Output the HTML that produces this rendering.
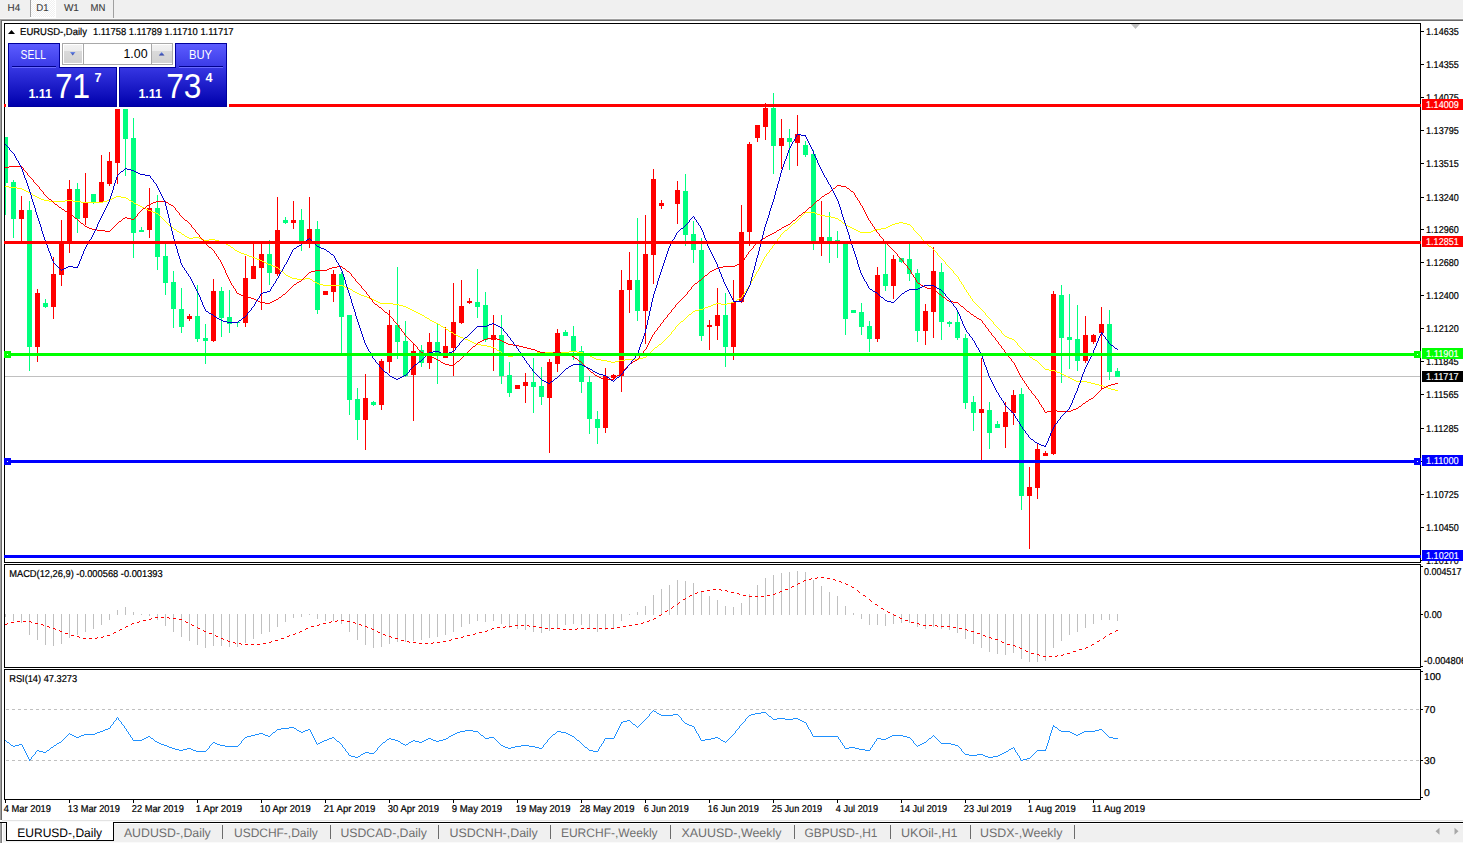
<!DOCTYPE html>
<html><head><meta charset="utf-8"><title>EURUSD-,Daily</title>
<style>html,body{margin:0;padding:0;background:#fff;width:1463px;height:843px;overflow:hidden}
text{font-family:'Liberation Sans',Arial,sans-serif;white-space:pre}
</style></head><body>
<svg width="1463" height="843" viewBox="0 0 1463 843" style="display:block;font-family:'Liberation Sans',Arial,sans-serif"><rect x="0" y="0" width="1463" height="19" fill="#f0f0f0"/>
<rect x="0" y="18" width="1463" height="1" fill="#f7f7f7"/>
<defs><pattern id="chk" width="2" height="2" patternUnits="userSpaceOnUse"><rect width="2" height="2" fill="#f0f0f0"/><rect width="1" height="1" fill="#fff"/><rect x="1" y="1" width="1" height="1" fill="#fff"/></pattern></defs>
<rect x="31" y="0" width="24" height="17" fill="url(#chk)"/>
<rect x="30" y="0" width="1" height="17" fill="#a0a0a0"/>
<rect x="55" y="0" width="1" height="18" fill="#fff"/>
<rect x="30" y="17" width="26" height="1" fill="#fff"/>
<rect x="113" y="0" width="1" height="18" fill="#a0a0a0"/>
<text x="7.6" y="11" font-size="10" fill="#3a3a3a" textLength="12.6" lengthAdjust="spacingAndGlyphs" stroke="#3a3a3a" stroke-width="0.1" text-rendering="geometricPrecision">H4</text>
<text x="36.2" y="11" font-size="10" fill="#3a3a3a" textLength="12.3" lengthAdjust="spacingAndGlyphs" stroke="#3a3a3a" stroke-width="0.1" text-rendering="geometricPrecision">D1</text>
<text x="63.9" y="11" font-size="10" fill="#3a3a3a" textLength="15.0" lengthAdjust="spacingAndGlyphs" stroke="#3a3a3a" stroke-width="0.1" text-rendering="geometricPrecision">W1</text>
<text x="90.6" y="11" font-size="10" fill="#3a3a3a" textLength="14.8" lengthAdjust="spacingAndGlyphs" stroke="#3a3a3a" stroke-width="0.1" text-rendering="geometricPrecision">MN</text>
<rect x="0" y="19" width="1463" height="1" fill="#a0a0a0"/>
<rect x="1" y="20" width="1463" height="1" fill="#696969"/>
<rect x="0" y="19" width="1" height="801" fill="#a0a0a0"/>
<rect x="1" y="20" width="1" height="800" fill="#696969"/>
<rect x="2" y="21" width="1461" height="799" fill="#fff"/>
<rect x="2" y="820" width="1461" height="1" fill="#e3e3e3"/>
<rect x="4" y="23" width="1417" height="1" fill="#000"/>
<rect x="4" y="23" width="1" height="540" fill="#000"/>
<rect x="1420" y="23" width="1" height="540" fill="#000"/>
<rect x="4" y="562" width="1417" height="1" fill="#000"/>
<rect x="5" y="376" width="1415" height="1" fill="#c0c0c0"/>
<rect x="5" y="137" width="1" height="78" fill="#00ff7f"/>
<rect x="5" y="137" width="3" height="46" fill="#00ff7f"/>
<rect x="13" y="180" width="1" height="58" fill="#00ff7f"/>
<rect x="11" y="182" width="5" height="37" fill="#00ff7f"/>
<rect x="21" y="196" width="1" height="45" fill="#ff0000"/>
<rect x="19" y="210" width="5" height="9" fill="#ff0000"/>
<rect x="29" y="201" width="1" height="170" fill="#00ff7f"/>
<rect x="27" y="210" width="5" height="137" fill="#00ff7f"/>
<rect x="37" y="289" width="1" height="73" fill="#ff0000"/>
<rect x="35" y="293" width="5" height="54" fill="#ff0000"/>
<rect x="45" y="299" width="1" height="9" fill="#00ff7f"/>
<rect x="43" y="303" width="5" height="4" fill="#00ff7f"/>
<rect x="53" y="257" width="1" height="62" fill="#ff0000"/>
<rect x="51" y="274" width="5" height="33" fill="#ff0000"/>
<rect x="61" y="220" width="1" height="66" fill="#ff0000"/>
<rect x="59" y="243" width="5" height="32" fill="#ff0000"/>
<rect x="69" y="180" width="1" height="73" fill="#ff0000"/>
<rect x="67" y="189" width="5" height="52" fill="#ff0000"/>
<rect x="77" y="183" width="1" height="50" fill="#00ff7f"/>
<rect x="75" y="189" width="5" height="30" fill="#00ff7f"/>
<rect x="85" y="173" width="1" height="52" fill="#ff0000"/>
<rect x="83" y="202" width="5" height="16" fill="#ff0000"/>
<rect x="93" y="194" width="1" height="10" fill="#00ff7f"/>
<rect x="91" y="194" width="5" height="8" fill="#00ff7f"/>
<rect x="101" y="155" width="1" height="47" fill="#ff0000"/>
<rect x="99" y="182" width="5" height="20" fill="#ff0000"/>
<rect x="109" y="152" width="1" height="34" fill="#ff0000"/>
<rect x="107" y="161" width="5" height="23" fill="#ff0000"/>
<rect x="117" y="50" width="1" height="134" fill="#ff0000"/>
<rect x="115" y="71" width="5" height="92" fill="#ff0000"/>
<rect x="125" y="50" width="1" height="126" fill="#00ff7f"/>
<rect x="123" y="71" width="5" height="68" fill="#00ff7f"/>
<rect x="133" y="118" width="1" height="140" fill="#00ff7f"/>
<rect x="131" y="138" width="5" height="95" fill="#00ff7f"/>
<rect x="141" y="227" width="1" height="5" fill="#00ff7f"/>
<rect x="139" y="230" width="5" height="2" fill="#00ff7f"/>
<rect x="149" y="188" width="1" height="50" fill="#ff0000"/>
<rect x="147" y="208" width="5" height="22" fill="#ff0000"/>
<rect x="157" y="195" width="1" height="75" fill="#00ff7f"/>
<rect x="155" y="208" width="5" height="49" fill="#00ff7f"/>
<rect x="165" y="244" width="1" height="51" fill="#00ff7f"/>
<rect x="163" y="256" width="5" height="27" fill="#00ff7f"/>
<rect x="173" y="271" width="1" height="57" fill="#00ff7f"/>
<rect x="171" y="282" width="5" height="27" fill="#00ff7f"/>
<rect x="181" y="288" width="1" height="45" fill="#00ff7f"/>
<rect x="179" y="309" width="5" height="18" fill="#00ff7f"/>
<rect x="189" y="314" width="1" height="7" fill="#ff0000"/>
<rect x="187" y="316" width="5" height="3" fill="#ff0000"/>
<rect x="197" y="285" width="1" height="57" fill="#00ff7f"/>
<rect x="195" y="316" width="5" height="23" fill="#00ff7f"/>
<rect x="205" y="324" width="1" height="40" fill="#00ff7f"/>
<rect x="203" y="338" width="5" height="3" fill="#00ff7f"/>
<rect x="213" y="279" width="1" height="63" fill="#ff0000"/>
<rect x="211" y="291" width="5" height="50" fill="#ff0000"/>
<rect x="221" y="287" width="1" height="50" fill="#00ff7f"/>
<rect x="219" y="291" width="5" height="27" fill="#00ff7f"/>
<rect x="229" y="290" width="1" height="43" fill="#00ff7f"/>
<rect x="227" y="317" width="5" height="7" fill="#00ff7f"/>
<rect x="237" y="322" width="1" height="5" fill="#00ff7f"/>
<rect x="235" y="322" width="5" height="1" fill="#00ff7f"/>
<rect x="245" y="256" width="1" height="71" fill="#ff0000"/>
<rect x="243" y="278" width="5" height="45" fill="#ff0000"/>
<rect x="253" y="244" width="1" height="35" fill="#ff0000"/>
<rect x="251" y="266" width="5" height="13" fill="#ff0000"/>
<rect x="261" y="241" width="1" height="69" fill="#ff0000"/>
<rect x="259" y="254" width="5" height="14" fill="#ff0000"/>
<rect x="269" y="240" width="1" height="45" fill="#00ff7f"/>
<rect x="267" y="254" width="5" height="19" fill="#00ff7f"/>
<rect x="277" y="197" width="1" height="79" fill="#ff0000"/>
<rect x="275" y="230" width="5" height="44" fill="#ff0000"/>
<rect x="285" y="217" width="1" height="7" fill="#00ff7f"/>
<rect x="283" y="220" width="5" height="3" fill="#00ff7f"/>
<rect x="293" y="201" width="1" height="28" fill="#ff0000"/>
<rect x="291" y="220" width="5" height="3" fill="#ff0000"/>
<rect x="301" y="209" width="1" height="42" fill="#00ff7f"/>
<rect x="299" y="220" width="5" height="21" fill="#00ff7f"/>
<rect x="309" y="197" width="1" height="51" fill="#ff0000"/>
<rect x="307" y="229" width="5" height="13" fill="#ff0000"/>
<rect x="317" y="221" width="1" height="93" fill="#00ff7f"/>
<rect x="315" y="229" width="5" height="81" fill="#00ff7f"/>
<rect x="325" y="291" width="1" height="4" fill="#ff0000"/>
<rect x="323" y="291" width="5" height="4" fill="#ff0000"/>
<rect x="333" y="270" width="1" height="32" fill="#ff0000"/>
<rect x="331" y="274" width="5" height="18" fill="#ff0000"/>
<rect x="341" y="272" width="1" height="81" fill="#00ff7f"/>
<rect x="339" y="274" width="5" height="43" fill="#00ff7f"/>
<rect x="349" y="315" width="1" height="100" fill="#00ff7f"/>
<rect x="347" y="315" width="5" height="85" fill="#00ff7f"/>
<rect x="357" y="388" width="1" height="52" fill="#00ff7f"/>
<rect x="355" y="399" width="5" height="21" fill="#00ff7f"/>
<rect x="365" y="374" width="1" height="76" fill="#ff0000"/>
<rect x="363" y="398" width="5" height="22" fill="#ff0000"/>
<rect x="373" y="401" width="1" height="5" fill="#00ff7f"/>
<rect x="371" y="402" width="5" height="3" fill="#00ff7f"/>
<rect x="381" y="359" width="1" height="51" fill="#ff0000"/>
<rect x="379" y="361" width="5" height="44" fill="#ff0000"/>
<rect x="389" y="310" width="1" height="63" fill="#ff0000"/>
<rect x="387" y="325" width="5" height="37" fill="#ff0000"/>
<rect x="397" y="267" width="1" height="92" fill="#00ff7f"/>
<rect x="395" y="325" width="5" height="17" fill="#00ff7f"/>
<rect x="405" y="321" width="1" height="56" fill="#00ff7f"/>
<rect x="403" y="341" width="5" height="35" fill="#00ff7f"/>
<rect x="413" y="343" width="1" height="78" fill="#ff0000"/>
<rect x="411" y="351" width="5" height="24" fill="#ff0000"/>
<rect x="421" y="345" width="1" height="22" fill="#00ff7f"/>
<rect x="419" y="350" width="5" height="13" fill="#00ff7f"/>
<rect x="429" y="333" width="1" height="36" fill="#ff0000"/>
<rect x="427" y="342" width="5" height="21" fill="#ff0000"/>
<rect x="437" y="323" width="1" height="61" fill="#00ff7f"/>
<rect x="435" y="342" width="5" height="14" fill="#00ff7f"/>
<rect x="445" y="327" width="1" height="31" fill="#ff0000"/>
<rect x="443" y="346" width="5" height="12" fill="#ff0000"/>
<rect x="453" y="283" width="1" height="93" fill="#ff0000"/>
<rect x="451" y="322" width="5" height="26" fill="#ff0000"/>
<rect x="461" y="280" width="1" height="44" fill="#ff0000"/>
<rect x="459" y="306" width="5" height="17" fill="#ff0000"/>
<rect x="469" y="298" width="1" height="6" fill="#ff0000"/>
<rect x="467" y="301" width="5" height="2" fill="#ff0000"/>
<rect x="477" y="269" width="1" height="49" fill="#00ff7f"/>
<rect x="475" y="302" width="5" height="5" fill="#00ff7f"/>
<rect x="485" y="292" width="1" height="50" fill="#00ff7f"/>
<rect x="483" y="305" width="5" height="35" fill="#00ff7f"/>
<rect x="493" y="315" width="1" height="56" fill="#ff0000"/>
<rect x="491" y="335" width="5" height="5" fill="#ff0000"/>
<rect x="501" y="315" width="1" height="69" fill="#00ff7f"/>
<rect x="499" y="335" width="5" height="41" fill="#00ff7f"/>
<rect x="509" y="362" width="1" height="35" fill="#00ff7f"/>
<rect x="507" y="375" width="5" height="18" fill="#00ff7f"/>
<rect x="517" y="385" width="1" height="4" fill="#ff0000"/>
<rect x="515" y="385" width="5" height="4" fill="#ff0000"/>
<rect x="525" y="373" width="1" height="30" fill="#ff0000"/>
<rect x="523" y="382" width="5" height="4" fill="#ff0000"/>
<rect x="533" y="358" width="1" height="55" fill="#00ff7f"/>
<rect x="531" y="382" width="5" height="5" fill="#00ff7f"/>
<rect x="541" y="367" width="1" height="38" fill="#00ff7f"/>
<rect x="539" y="386" width="5" height="11" fill="#00ff7f"/>
<rect x="549" y="359" width="1" height="94" fill="#ff0000"/>
<rect x="547" y="362" width="5" height="36" fill="#ff0000"/>
<rect x="557" y="329" width="1" height="43" fill="#ff0000"/>
<rect x="555" y="333" width="5" height="31" fill="#ff0000"/>
<rect x="565" y="330" width="1" height="6" fill="#00ff7f"/>
<rect x="563" y="332" width="5" height="4" fill="#00ff7f"/>
<rect x="573" y="326" width="1" height="34" fill="#00ff7f"/>
<rect x="571" y="336" width="5" height="15" fill="#00ff7f"/>
<rect x="581" y="346" width="1" height="47" fill="#00ff7f"/>
<rect x="579" y="351" width="5" height="31" fill="#00ff7f"/>
<rect x="589" y="376" width="1" height="58" fill="#00ff7f"/>
<rect x="587" y="382" width="5" height="37" fill="#00ff7f"/>
<rect x="597" y="411" width="1" height="33" fill="#00ff7f"/>
<rect x="595" y="419" width="5" height="9" fill="#00ff7f"/>
<rect x="605" y="368" width="1" height="65" fill="#ff0000"/>
<rect x="603" y="376" width="5" height="52" fill="#ff0000"/>
<rect x="613" y="374" width="1" height="5" fill="#ff0000"/>
<rect x="611" y="375" width="5" height="3" fill="#ff0000"/>
<rect x="621" y="270" width="1" height="122" fill="#ff0000"/>
<rect x="619" y="290" width="5" height="86" fill="#ff0000"/>
<rect x="629" y="252" width="1" height="61" fill="#ff0000"/>
<rect x="627" y="280" width="5" height="10" fill="#ff0000"/>
<rect x="637" y="218" width="1" height="103" fill="#00ff7f"/>
<rect x="635" y="280" width="5" height="31" fill="#00ff7f"/>
<rect x="645" y="215" width="1" height="129" fill="#ff0000"/>
<rect x="643" y="254" width="5" height="57" fill="#ff0000"/>
<rect x="653" y="169" width="1" height="115" fill="#ff0000"/>
<rect x="651" y="179" width="5" height="76" fill="#ff0000"/>
<rect x="661" y="200" width="1" height="9" fill="#ff0000"/>
<rect x="659" y="203" width="5" height="3" fill="#ff0000"/>
<rect x="677" y="181" width="1" height="43" fill="#ff0000"/>
<rect x="675" y="190" width="5" height="14" fill="#ff0000"/>
<rect x="685" y="174" width="1" height="72" fill="#00ff7f"/>
<rect x="683" y="191" width="5" height="44" fill="#00ff7f"/>
<rect x="693" y="221" width="1" height="42" fill="#00ff7f"/>
<rect x="691" y="234" width="5" height="16" fill="#00ff7f"/>
<rect x="701" y="238" width="1" height="103" fill="#00ff7f"/>
<rect x="699" y="250" width="5" height="86" fill="#00ff7f"/>
<rect x="709" y="320" width="1" height="30" fill="#ff0000"/>
<rect x="707" y="325" width="5" height="2" fill="#ff0000"/>
<rect x="717" y="288" width="1" height="52" fill="#ff0000"/>
<rect x="715" y="315" width="5" height="11" fill="#ff0000"/>
<rect x="725" y="293" width="1" height="74" fill="#00ff7f"/>
<rect x="723" y="315" width="5" height="32" fill="#00ff7f"/>
<rect x="733" y="280" width="1" height="80" fill="#ff0000"/>
<rect x="731" y="302" width="5" height="45" fill="#ff0000"/>
<rect x="741" y="205" width="1" height="98" fill="#ff0000"/>
<rect x="739" y="232" width="5" height="70" fill="#ff0000"/>
<rect x="749" y="142" width="1" height="104" fill="#ff0000"/>
<rect x="747" y="144" width="5" height="88" fill="#ff0000"/>
<rect x="757" y="125" width="1" height="17" fill="#ff0000"/>
<rect x="755" y="125" width="5" height="13" fill="#ff0000"/>
<rect x="765" y="103" width="1" height="37" fill="#ff0000"/>
<rect x="763" y="108" width="5" height="19" fill="#ff0000"/>
<rect x="773" y="93" width="1" height="81" fill="#00ff7f"/>
<rect x="771" y="108" width="5" height="38" fill="#00ff7f"/>
<rect x="781" y="119" width="1" height="50" fill="#ff0000"/>
<rect x="779" y="138" width="5" height="8" fill="#ff0000"/>
<rect x="789" y="129" width="1" height="41" fill="#00ff7f"/>
<rect x="787" y="138" width="5" height="4" fill="#00ff7f"/>
<rect x="797" y="115" width="1" height="51" fill="#ff0000"/>
<rect x="795" y="134" width="5" height="9" fill="#ff0000"/>
<rect x="805" y="141" width="1" height="16" fill="#00ff7f"/>
<rect x="803" y="145" width="5" height="10" fill="#00ff7f"/>
<rect x="813" y="150" width="1" height="100" fill="#00ff7f"/>
<rect x="811" y="154" width="5" height="87" fill="#00ff7f"/>
<rect x="821" y="201" width="1" height="55" fill="#ff0000"/>
<rect x="819" y="237" width="5" height="5" fill="#ff0000"/>
<rect x="829" y="212" width="1" height="51" fill="#00ff7f"/>
<rect x="827" y="237" width="5" height="4" fill="#00ff7f"/>
<rect x="837" y="231" width="1" height="27" fill="#00ff7f"/>
<rect x="835" y="240" width="5" height="1" fill="#00ff7f"/>
<rect x="845" y="244" width="1" height="91" fill="#00ff7f"/>
<rect x="843" y="244" width="5" height="75" fill="#00ff7f"/>
<rect x="853" y="310" width="1" height="3" fill="#00ff7f"/>
<rect x="851" y="310" width="5" height="3" fill="#00ff7f"/>
<rect x="861" y="303" width="1" height="32" fill="#00ff7f"/>
<rect x="859" y="312" width="5" height="15" fill="#00ff7f"/>
<rect x="869" y="321" width="1" height="31" fill="#00ff7f"/>
<rect x="867" y="326" width="5" height="13" fill="#00ff7f"/>
<rect x="877" y="267" width="1" height="75" fill="#ff0000"/>
<rect x="875" y="275" width="5" height="64" fill="#ff0000"/>
<rect x="885" y="242" width="1" height="49" fill="#00ff7f"/>
<rect x="883" y="274" width="5" height="12" fill="#00ff7f"/>
<rect x="893" y="255" width="1" height="44" fill="#ff0000"/>
<rect x="891" y="259" width="5" height="27" fill="#ff0000"/>
<rect x="901" y="258" width="1" height="5" fill="#00ff7f"/>
<rect x="899" y="258" width="5" height="4" fill="#00ff7f"/>
<rect x="909" y="244" width="1" height="37" fill="#00ff7f"/>
<rect x="907" y="259" width="5" height="15" fill="#00ff7f"/>
<rect x="917" y="269" width="1" height="73" fill="#00ff7f"/>
<rect x="915" y="273" width="5" height="58" fill="#00ff7f"/>
<rect x="925" y="304" width="1" height="41" fill="#ff0000"/>
<rect x="923" y="311" width="5" height="20" fill="#ff0000"/>
<rect x="933" y="247" width="1" height="91" fill="#ff0000"/>
<rect x="931" y="271" width="5" height="41" fill="#ff0000"/>
<rect x="941" y="263" width="1" height="77" fill="#00ff7f"/>
<rect x="939" y="272" width="5" height="50" fill="#00ff7f"/>
<rect x="949" y="321" width="1" height="6" fill="#00ff7f"/>
<rect x="947" y="322" width="5" height="2" fill="#00ff7f"/>
<rect x="957" y="312" width="1" height="28" fill="#00ff7f"/>
<rect x="955" y="322" width="5" height="16" fill="#00ff7f"/>
<rect x="965" y="334" width="1" height="75" fill="#00ff7f"/>
<rect x="963" y="338" width="5" height="65" fill="#00ff7f"/>
<rect x="973" y="396" width="1" height="35" fill="#00ff7f"/>
<rect x="971" y="402" width="5" height="11" fill="#00ff7f"/>
<rect x="981" y="358" width="1" height="102" fill="#ff0000"/>
<rect x="979" y="409" width="5" height="4" fill="#ff0000"/>
<rect x="989" y="402" width="1" height="47" fill="#00ff7f"/>
<rect x="987" y="410" width="5" height="23" fill="#00ff7f"/>
<rect x="997" y="421" width="1" height="7" fill="#00ff7f"/>
<rect x="995" y="424" width="5" height="4" fill="#00ff7f"/>
<rect x="1005" y="402" width="1" height="46" fill="#ff0000"/>
<rect x="1003" y="412" width="5" height="15" fill="#ff0000"/>
<rect x="1013" y="390" width="1" height="35" fill="#ff0000"/>
<rect x="1011" y="395" width="5" height="18" fill="#ff0000"/>
<rect x="1021" y="388" width="1" height="122" fill="#00ff7f"/>
<rect x="1019" y="394" width="5" height="102" fill="#00ff7f"/>
<rect x="1029" y="467" width="1" height="82" fill="#ff0000"/>
<rect x="1027" y="487" width="5" height="9" fill="#ff0000"/>
<rect x="1037" y="443" width="1" height="56" fill="#ff0000"/>
<rect x="1035" y="449" width="5" height="39" fill="#ff0000"/>
<rect x="1045" y="451" width="1" height="5" fill="#ff0000"/>
<rect x="1043" y="453" width="5" height="3" fill="#ff0000"/>
<rect x="1053" y="291" width="1" height="164" fill="#ff0000"/>
<rect x="1051" y="294" width="5" height="160" fill="#ff0000"/>
<rect x="1061" y="285" width="1" height="98" fill="#00ff7f"/>
<rect x="1059" y="295" width="5" height="43" fill="#00ff7f"/>
<rect x="1069" y="294" width="1" height="75" fill="#00ff7f"/>
<rect x="1067" y="337" width="5" height="3" fill="#00ff7f"/>
<rect x="1077" y="305" width="1" height="66" fill="#00ff7f"/>
<rect x="1075" y="339" width="5" height="22" fill="#00ff7f"/>
<rect x="1085" y="316" width="1" height="47" fill="#ff0000"/>
<rect x="1083" y="335" width="5" height="26" fill="#ff0000"/>
<rect x="1093" y="334" width="1" height="10" fill="#ff0000"/>
<rect x="1091" y="335" width="5" height="7" fill="#ff0000"/>
<rect x="1101" y="307" width="1" height="82" fill="#ff0000"/>
<rect x="1099" y="324" width="5" height="9" fill="#ff0000"/>
<rect x="1109" y="310" width="1" height="70" fill="#00ff7f"/>
<rect x="1107" y="324" width="5" height="48" fill="#00ff7f"/>
<rect x="1117" y="368" width="1" height="9" fill="#00ff7f"/>
<rect x="1115" y="371" width="5" height="6" fill="#00ff7f"/>
<path d="M5 186h4v1h-4zM9 187h8v1h-8zM17 188h5v1h-5zM22 189h2v1h-2zM24 190h2v1h-2zM26 191h2v1h-2zM28 192h2v1h-2zM30 193h2v1h-2zM32 194h1v1h-1zM33 195h2v1h-2zM35 196h2v1h-2zM37 197h2v1h-2zM39 198h2v1h-2zM41 199h3v1h-3zM44 200h5v1h-5zM49 201h16v1h-16zM65 200h8v1h-8zM73 201h8v1h-8zM81 202h22v1h-22zM103 201h4v1h-4zM107 200h3v1h-3zM110 199h2v1h-2zM112 198h2v1h-2zM114 197h2v1h-2zM116 196h5v1h-5zM121 197h5v1h-5zM126 198h2v1h-2zM128 199h1v1h-1zM129 200h2v1h-2zM131 201h2v1h-2zM133 202h1v1h-1zM134 203h2v1h-2zM136 204h2v1h-2zM138 205h2v1h-2zM140 206h2v1h-2zM142 207h2v1h-2zM144 208h2v1h-2zM146 209h2v1h-2zM148 210h3v1h-3zM151 211h2v1h-2zM153 212h3v1h-3zM156 213h2v1h-2zM158 214h1v1h-1zM159 215h1v1h-1zM160 216h1v1h-1zM161 217h1v1h-1zM162 218h1v1h-1zM163 219h1v1h-1zM164 220h1v1h-1zM165 221h1v1h-1zM166 222h1v1h-1zM167 223h1v1h-1zM168 224h1v1h-1zM169 225h2v1h-2zM171 226h1v1h-1zM172 227h1v1h-1zM173 228h1v1h-1zM174 229h2v1h-2zM176 230h1v1h-1zM177 231h2v1h-2zM179 232h2v1h-2zM181 233h1v1h-1zM182 234h2v1h-2zM184 235h1v1h-1zM185 236h2v1h-2zM187 237h2v1h-2zM189 238h4v1h-4zM193 237h6v1h-6zM199 238h2v1h-2zM201 239h3v1h-3zM204 240h5v1h-5zM209 239h6v1h-6zM215 240h4v1h-4zM219 241h3v1h-3zM222 242h2v1h-2zM224 243h2v1h-2zM226 244h2v1h-2zM228 245h2v1h-2zM230 246h1v1h-1zM231 247h2v1h-2zM233 248h1v1h-1zM234 249h1v1h-1zM235 250h2v1h-2zM237 251h2v1h-2zM239 252h2v1h-2zM241 253h3v1h-3zM244 254h3v1h-3zM247 255h2v1h-2zM249 256h3v1h-3zM252 257h3v1h-3zM255 258h2v1h-2zM257 259h3v1h-3zM260 260h2v1h-2zM262 261h2v1h-2zM264 262h2v1h-2zM266 263h2v1h-2zM268 264h3v1h-3zM271 265h2v1h-2zM273 266h3v1h-3zM276 267h2v1h-2zM278 268h1v1h-1zM279 269h1v1h-1zM280 270h1v1h-1zM281 271h2v1h-2zM283 272h1v1h-1zM284 273h1v1h-1zM285 274h1v1h-1zM286 275h2v1h-2zM288 276h2v1h-2zM290 277h2v1h-2zM292 278h5v1h-5zM297 279h8v1h-8zM305 278h5v1h-5zM310 279h2v1h-2zM312 280h1v1h-1zM313 281h2v1h-2zM315 282h2v1h-2zM317 283h2v1h-2zM319 284h4v1h-4zM323 285h20v1h-20zM343 286h2v1h-2zM345 287h3v1h-3zM348 288h2v1h-2zM350 289h2v1h-2zM352 290h1v1h-1zM353 291h2v1h-2zM355 292h2v1h-2zM357 293h2v1h-2zM359 294h2v1h-2zM361 295h3v1h-3zM364 296h3v1h-3zM367 297h2v1h-2zM369 298h3v1h-3zM372 299h2v1h-2zM374 300h2v1h-2zM376 301h2v1h-2zM378 302h2v1h-2zM380 303h13v1h-13zM393 304h6v1h-6zM399 305h4v1h-4zM403 306h3v1h-3zM406 307h2v1h-2zM408 308h2v1h-2zM410 309h2v1h-2zM412 310h2v1h-2zM414 311h2v1h-2zM416 312h2v1h-2zM418 313h2v1h-2zM420 314h2v1h-2zM422 315h2v1h-2zM424 316h1v1h-1zM425 317h2v1h-2zM427 318h2v1h-2zM429 319h1v1h-1zM430 320h2v1h-2zM432 321h2v1h-2zM434 322h2v1h-2zM436 323h2v1h-2zM438 324h2v1h-2zM440 325h1v1h-1zM441 326h2v1h-2zM443 327h2v1h-2zM445 328h1v1h-1zM446 329h2v1h-2zM448 330h1v1h-1zM449 331h2v1h-2zM451 332h2v1h-2zM453 333h1v1h-1zM454 334h2v1h-2zM456 335h2v1h-2zM458 336h2v1h-2zM460 337h3v1h-3zM463 338h2v1h-2zM465 339h3v1h-3zM468 340h2v1h-2zM470 341h2v1h-2zM472 342h2v1h-2zM474 343h2v1h-2zM476 344h5v1h-5zM481 345h6v1h-6zM487 346h4v1h-4zM491 347h3v1h-3zM494 348h2v1h-2zM496 349h1v1h-1zM497 350h2v1h-2zM499 351h2v1h-2zM501 352h1v1h-1zM502 353h2v1h-2zM504 354h2v1h-2zM506 355h2v1h-2zM508 356h5v1h-5zM513 355h6v1h-6zM519 354h4v1h-4zM523 353h14v1h-14zM537 352h16v1h-16zM553 353h8v1h-8zM561 352h8v1h-8zM569 351h8v1h-8zM577 352h6v1h-6zM583 353h2v1h-2zM585 354h3v1h-3zM588 355h2v1h-2zM590 356h2v1h-2zM592 357h2v1h-2zM594 358h2v1h-2zM596 359h5v1h-5zM601 360h6v1h-6zM607 361h4v1h-4zM611 362h4v1h-4zM615 361h4v1h-4zM619 360h6v1h-6zM625 359h14v1h-14zM639 358h4v1h-4zM643 357h3v1h-3zM646 356h1v1h-1zM647 355h1v1h-1zM648 354h1v1h-1zM649 353h1v1h-1zM650 352h1v1h-1zM651 351h1v1h-1zM652 350h1v1h-1zM653 349h1v1h-1zM654 348h1v1h-1zM655 347h2v1h-2zM657 346h1v1h-1zM658 345h1v1h-1zM659 344h2v1h-2zM661 343h1v1h-1zM662 342h1v1h-1zM663 341h1v1h-1zM664 340h1v1h-1zM665 339h1v1h-1zM666 338h1v1h-1zM667 337h1v1h-1zM668 336h1v1h-1zM669 335h1v1h-1zM670 334h1v1h-1zM671 333h1v1h-1zM671 332h1v1h-1zM672 331h1v1h-1zM673 330h1v1h-1zM674 329h1v1h-1zM675 328h1v1h-1zM675 327h1v1h-1zM676 326h1v1h-1zM677 325h1v1h-1zM678 324h1v1h-1zM679 323h1v1h-1zM680 322h1v1h-1zM681 321h2v1h-2zM683 320h1v1h-1zM684 319h1v1h-1zM685 318h1v1h-1zM686 317h1v1h-1zM687 316h1v1h-1zM688 315h1v1h-1zM689 314h2v1h-2zM691 313h1v1h-1zM692 312h1v1h-1zM693 311h2v1h-2zM695 310h4v1h-4zM699 309h4v1h-4zM703 308h2v1h-2zM705 307h3v1h-3zM708 306h3v1h-3zM711 305h2v1h-2zM713 304h3v1h-3zM716 303h5v1h-5zM721 304h6v1h-6zM727 303h4v1h-4zM731 302h3v1h-3zM734 301h2v1h-2zM736 300h1v1h-1zM737 299h2v1h-2zM739 298h2v1h-2zM741 297h1v1h-1zM742 296h1v1h-1zM742 295h1v1h-1zM743 294h1v1h-1zM744 293h1v1h-1zM744 292h1v1h-1zM745 291h1v1h-1zM746 290h1v1h-1zM746 289h1v1h-1zM747 288h1v1h-1zM748 287h1v1h-1zM748 286h1v1h-1zM749 285h1v1h-1zM750 284h1v1h-1zM750 283h1v1h-1zM751 282h1v1h-1zM751 281h1v1h-1zM752 280h1v1h-1zM752 279h1v1h-1zM753 278h1v1h-1zM754 277h1v1h-1zM754 276h1v1h-1zM755 275h1v1h-1zM755 274h1v1h-1zM756 273h1v1h-1zM756 272h1v1h-1zM757 271h1v1h-1zM758 270h1v1h-1zM758 269h1v1h-1zM759 268h1v1h-1zM759 267h1v1h-1zM760 266h1v1h-1zM760 265h1v1h-1zM761 264h1v1h-1zM761 263h1v1h-1zM762 262h1v1h-1zM762 261h1v1h-1zM763 260h1v1h-1zM763 259h1v1h-1zM764 258h1v1h-1zM764 257h1v1h-1zM765 256h1v1h-1zM766 255h1v1h-1zM766 254h1v1h-1zM767 253h1v1h-1zM768 252h1v1h-1zM769 251h1v1h-1zM769 250h1v1h-1zM770 249h1v1h-1zM771 248h1v1h-1zM772 247h1v1h-1zM772 246h1v1h-1zM773 245h1v1h-1zM774 244h1v1h-1zM774 243h1v1h-1zM775 242h1v1h-1zM776 241h1v1h-1zM777 240h1v1h-1zM777 239h1v1h-1zM778 238h1v1h-1zM779 237h1v1h-1zM780 236h1v1h-1zM780 235h1v1h-1zM781 234h1v1h-1zM782 233h1v1h-1zM783 232h1v1h-1zM784 231h1v1h-1zM785 230h2v1h-2zM787 229h1v1h-1zM788 228h1v1h-1zM789 227h1v1h-1zM790 226h1v1h-1zM791 225h1v1h-1zM792 224h1v1h-1zM793 223h2v1h-2zM795 222h1v1h-1zM796 221h1v1h-1zM797 220h1v1h-1zM798 219h1v1h-1zM799 218h1v1h-1zM800 217h1v1h-1zM801 216h1v1h-1zM802 215h1v1h-1zM803 214h1v1h-1zM804 213h1v1h-1zM805 212h10v1h-10zM815 213h2v1h-2zM817 214h3v1h-3zM820 215h5v1h-5zM825 216h6v1h-6zM831 217h4v1h-4zM835 218h3v1h-3zM838 219h1v1h-1zM839 220h2v1h-2zM841 221h1v1h-1zM842 222h1v1h-1zM843 223h2v1h-2zM845 224h1v1h-1zM846 225h2v1h-2zM848 226h2v1h-2zM850 227h2v1h-2zM852 228h2v1h-2zM854 229h2v1h-2zM856 230h2v1h-2zM858 231h2v1h-2zM860 232h11v1h-11zM871 231h2v1h-2zM873 230h3v1h-3zM876 229h5v1h-5zM881 228h5v1h-5zM886 227h2v1h-2zM888 226h2v1h-2zM890 225h2v1h-2zM892 224h3v1h-3zM895 223h4v1h-4zM899 222h4v1h-4zM903 223h4v1h-4zM907 224h3v1h-3zM910 225h1v1h-1zM911 226h1v1h-1zM912 227h1v1h-1zM913 228h1v1h-1zM913 229h1v1h-1zM914 230h1v1h-1zM915 231h1v1h-1zM916 232h1v1h-1zM917 233h1v1h-1zM918 234h1v1h-1zM919 235h1v1h-1zM920 236h1v1h-1zM921 237h1v1h-1zM921 238h1v1h-1zM922 239h1v1h-1zM923 240h1v1h-1zM924 241h1v1h-1zM925 242h1v1h-1zM926 243h1v1h-1zM927 244h1v1h-1zM928 245h1v1h-1zM929 246h2v1h-2zM931 247h1v1h-1zM932 248h1v1h-1zM933 249h1v1h-1zM934 250h1v1h-1zM935 251h1v1h-1zM936 252h1v1h-1zM937 253h1v1h-1zM937 254h1v1h-1zM938 255h1v1h-1zM939 256h1v1h-1zM940 257h1v1h-1zM941 258h1v1h-1zM942 259h1v1h-1zM943 260h1v1h-1zM944 261h1v1h-1zM945 262h1v1h-1zM945 263h1v1h-1zM946 264h1v1h-1zM947 265h1v1h-1zM948 266h1v1h-1zM949 267h1v1h-1zM950 268h1v1h-1zM951 269h1v1h-1zM952 270h1v1h-1zM953 271h1v1h-1zM953 272h1v1h-1zM954 273h1v1h-1zM955 274h1v1h-1zM956 275h1v1h-1zM957 276h1v1h-1zM958 277h1v1h-1zM958 278h1v1h-1zM959 279h1v1h-1zM959 280h1v1h-1zM960 281h1v1h-1zM961 282h1v1h-1zM961 283h1v1h-1zM962 284h1v1h-1zM963 285h1v1h-1zM963 286h1v1h-1zM964 287h1v1h-1zM964 288h1v1h-1zM965 289h1v1h-1zM966 290h1v1h-1zM966 291h1v1h-1zM967 292h1v1h-1zM968 293h1v1h-1zM968 294h1v1h-1zM969 295h1v1h-1zM970 296h1v1h-1zM970 297h1v1h-1zM971 298h1v1h-1zM972 299h1v1h-1zM972 300h1v1h-1zM973 301h1v1h-1zM974 302h1v1h-1zM975 303h1v1h-1zM976 304h1v1h-1zM977 305h1v1h-1zM978 306h1v1h-1zM979 307h1v1h-1zM980 308h1v1h-1zM981 309h1v1h-1zM982 310h1v1h-1zM983 311h1v1h-1zM984 312h1v1h-1zM985 313h1v1h-1zM985 314h1v1h-1zM986 315h1v1h-1zM987 316h1v1h-1zM988 317h1v1h-1zM989 318h1v1h-1zM990 319h1v1h-1zM991 320h1v1h-1zM992 321h1v1h-1zM993 322h1v1h-1zM993 323h1v1h-1zM994 324h1v1h-1zM995 325h1v1h-1zM996 326h1v1h-1zM997 327h1v1h-1zM998 328h1v1h-1zM999 329h1v1h-1zM1000 330h1v1h-1zM1001 331h1v1h-1zM1001 332h1v1h-1zM1002 333h1v1h-1zM1003 334h1v1h-1zM1004 335h1v1h-1zM1005 336h2v1h-2zM1007 337h2v1h-2zM1009 338h3v1h-3zM1012 339h2v1h-2zM1014 340h1v1h-1zM1015 341h1v1h-1zM1016 342h1v1h-1zM1017 343h1v1h-1zM1017 344h1v1h-1zM1018 345h1v1h-1zM1019 346h1v1h-1zM1020 347h1v1h-1zM1021 348h1v1h-1zM1022 349h1v1h-1zM1023 350h1v1h-1zM1024 351h1v1h-1zM1025 352h1v1h-1zM1026 353h1v1h-1zM1027 354h1v1h-1zM1028 355h1v1h-1zM1029 356h1v1h-1zM1030 357h2v1h-2zM1032 358h1v1h-1zM1033 359h2v1h-2zM1035 360h2v1h-2zM1037 361h1v1h-1zM1038 362h1v1h-1zM1039 363h1v1h-1zM1040 364h1v1h-1zM1041 365h1v1h-1zM1042 366h1v1h-1zM1043 367h1v1h-1zM1044 368h1v1h-1zM1045 369h4v1h-4zM1049 370h6v1h-6zM1055 371h2v1h-2zM1057 372h3v1h-3zM1060 373h2v1h-2zM1062 374h2v1h-2zM1064 375h2v1h-2zM1066 376h2v1h-2zM1068 377h2v1h-2zM1070 378h2v1h-2zM1072 379h2v1h-2zM1074 380h2v1h-2zM1076 381h11v1h-11zM1087 382h4v1h-4zM1091 383h4v1h-4zM1095 384h4v1h-4zM1099 385h4v1h-4zM1103 386h2v1h-2zM1105 387h3v1h-3zM1108 388h3v1h-3zM1111 389h4v1h-4zM1115 390h3v1h-3z" fill="#ffff00"/>
<path d="M5 167h4v1h-4zM9 166h13v1h-13zM22 167h1v1h-1zM23 168h1v1h-1zM23 169h1v1h-1zM24 170h1v1h-1zM25 171h1v1h-1zM26 172h1v1h-1zM27 173h1v1h-1zM27 174h1v1h-1zM28 175h1v1h-1zM29 176h1v1h-1zM30 177h1v1h-1zM31 178h1v1h-1zM32 179h1v1h-1zM33 180h1v1h-1zM33 181h1v1h-1zM34 182h1v1h-1zM35 183h1v1h-1zM36 184h1v1h-1zM37 185h1v1h-1zM38 186h1v1h-1zM39 187h1v1h-1zM39 188h1v1h-1zM40 189h1v1h-1zM41 190h1v1h-1zM42 191h1v1h-1zM43 192h1v1h-1zM43 193h1v1h-1zM44 194h1v1h-1zM45 195h1v1h-1zM46 196h1v1h-1zM47 197h1v1h-1zM48 198h1v1h-1zM49 199h2v1h-2zM51 200h1v1h-1zM52 201h1v1h-1zM53 202h1v1h-1zM54 203h1v1h-1zM55 204h2v1h-2zM57 205h1v1h-1zM58 206h1v1h-1zM59 207h2v1h-2zM61 208h1v1h-1zM62 209h2v1h-2zM64 210h1v1h-1zM65 211h2v1h-2zM67 212h2v1h-2zM69 213h1v1h-1zM70 214h1v1h-1zM71 215h2v1h-2zM73 216h1v1h-1zM74 217h1v1h-1zM75 218h2v1h-2zM77 219h1v1h-1zM78 220h1v1h-1zM79 221h1v1h-1zM80 222h1v1h-1zM81 223h2v1h-2zM83 224h1v1h-1zM84 225h1v1h-1zM85 226h2v1h-2zM87 227h2v1h-2zM89 228h3v1h-3zM92 229h5v1h-5zM97 230h8v1h-8zM105 231h5v1h-5zM110 230h1v1h-1zM111 229h1v1h-1zM112 228h1v1h-1zM113 227h1v1h-1zM114 226h1v1h-1zM115 225h1v1h-1zM116 224h1v1h-1zM117 223h1v1h-1zM118 222h1v1h-1zM119 221h2v1h-2zM121 220h1v1h-1zM122 219h1v1h-1zM123 218h2v1h-2zM125 217h2v1h-2zM127 218h4v1h-4zM131 219h3v1h-3zM134 218h1v1h-1zM135 217h1v1h-1zM136 216h1v1h-1zM137 215h1v1h-1zM137 214h1v1h-1zM138 213h1v1h-1zM139 212h1v1h-1zM140 211h1v1h-1zM141 210h1v1h-1zM142 209h1v1h-1zM143 208h2v1h-2zM145 207h1v1h-1zM146 206h1v1h-1zM147 205h2v1h-2zM149 204h2v1h-2zM151 203h2v1h-2zM153 202h3v1h-3zM156 201h10v1h-10zM166 202h2v1h-2zM168 203h1v1h-1zM169 204h2v1h-2zM171 205h2v1h-2zM173 206h1v1h-1zM174 207h1v1h-1zM175 208h1v1h-1zM175 209h1v1h-1zM176 210h1v1h-1zM177 211h1v1h-1zM178 212h1v1h-1zM179 213h1v1h-1zM179 214h1v1h-1zM180 215h1v1h-1zM181 216h1v1h-1zM182 217h1v1h-1zM183 218h1v1h-1zM184 219h1v1h-1zM185 220h2v1h-2zM187 221h1v1h-1zM188 222h1v1h-1zM189 223h1v1h-1zM190 224h1v1h-1zM191 225h1v1h-1zM191 226h1v1h-1zM192 227h1v1h-1zM193 228h1v1h-1zM194 229h1v1h-1zM195 230h1v1h-1zM195 231h1v1h-1zM196 232h1v1h-1zM197 233h1v1h-1zM198 234h1v1h-1zM199 235h1v1h-1zM199 236h1v1h-1zM200 237h1v1h-1zM201 238h1v1h-1zM202 239h1v1h-1zM203 240h1v1h-1zM203 241h1v1h-1zM204 242h1v1h-1zM205 243h1v1h-1zM206 244h1v1h-1zM207 245h1v1h-1zM208 246h1v1h-1zM209 247h2v1h-2zM211 248h1v1h-1zM212 249h1v1h-1zM213 250h1v1h-1zM214 251h1v1h-1zM214 252h1v1h-1zM215 253h1v1h-1zM216 254h1v1h-1zM216 255h1v1h-1zM217 256h1v1h-1zM218 257h1v1h-1zM218 258h1v1h-1zM219 259h1v1h-1zM220 260h1v1h-1zM220 261h1v1h-1zM221 262h1v1h-1zM221 263h1v1h-1zM222 264h1v1h-1zM222 265h1v1h-1zM223 266h1v1h-1zM223 267h1v1h-1zM224 268h1v1h-1zM224 269h1v1h-1zM225 270h1v1h-1zM225 271h1v1h-1zM225 272h1v1h-1zM226 273h1v1h-1zM226 274h1v1h-1zM227 275h1v1h-1zM227 276h1v1h-1zM228 277h1v1h-1zM228 278h1v1h-1zM229 279h1v1h-1zM229 280h1v1h-1zM230 281h1v1h-1zM230 282h1v1h-1zM231 283h1v1h-1zM231 284h1v1h-1zM232 285h1v1h-1zM233 286h1v1h-1zM233 287h1v1h-1zM234 288h1v1h-1zM235 289h1v1h-1zM235 290h1v1h-1zM236 291h1v1h-1zM236 292h1v1h-1zM237 293h2v1h-2zM239 294h2v1h-2zM241 295h3v1h-3zM244 296h3v1h-3zM247 297h4v1h-4zM251 298h3v1h-3zM254 299h2v1h-2zM256 300h2v1h-2zM258 301h2v1h-2zM260 302h5v1h-5zM265 303h5v1h-5zM270 302h2v1h-2zM272 301h2v1h-2zM274 300h2v1h-2zM276 299h2v1h-2zM278 298h1v1h-1zM279 297h2v1h-2zM281 296h1v1h-1zM282 295h1v1h-1zM283 294h2v1h-2zM285 293h1v1h-1zM286 292h1v1h-1zM287 291h1v1h-1zM288 290h1v1h-1zM289 289h1v1h-1zM290 288h1v1h-1zM291 287h1v1h-1zM292 286h1v1h-1zM293 285h1v1h-1zM294 284h2v1h-2zM296 283h1v1h-1zM297 282h2v1h-2zM299 281h2v1h-2zM301 280h1v1h-1zM302 279h1v1h-1zM303 278h1v1h-1zM304 277h1v1h-1zM305 276h1v1h-1zM306 275h1v1h-1zM307 274h1v1h-1zM308 273h1v1h-1zM309 272h2v1h-2zM311 271h4v1h-4zM315 270h12v1h-12zM327 269h2v1h-2zM329 268h3v1h-3zM332 267h5v1h-5zM337 266h5v1h-5zM342 267h1v1h-1zM343 268h2v1h-2zM345 269h1v1h-1zM346 270h1v1h-1zM347 271h2v1h-2zM349 272h1v1h-1zM350 273h1v1h-1zM351 274h1v1h-1zM351 275h1v1h-1zM352 276h1v1h-1zM353 277h1v1h-1zM354 278h1v1h-1zM355 279h1v1h-1zM355 280h1v1h-1zM356 281h1v1h-1zM357 282h1v1h-1zM358 283h1v1h-1zM359 284h1v1h-1zM360 285h1v1h-1zM361 286h1v1h-1zM361 287h1v1h-1zM362 288h1v1h-1zM363 289h1v1h-1zM364 290h1v1h-1zM365 291h1v1h-1zM366 292h1v1h-1zM366 293h1v1h-1zM367 294h1v1h-1zM368 295h1v1h-1zM369 296h1v1h-1zM369 297h1v1h-1zM370 298h1v1h-1zM371 299h1v1h-1zM372 300h1v1h-1zM372 301h1v1h-1zM373 302h1v1h-1zM374 303h1v1h-1zM375 304h2v1h-2zM377 305h1v1h-1zM378 306h1v1h-1zM379 307h2v1h-2zM381 308h1v1h-1zM382 309h1v1h-1zM383 310h1v1h-1zM384 311h1v1h-1zM385 312h2v1h-2zM387 313h1v1h-1zM388 314h1v1h-1zM389 315h1v1h-1zM390 316h1v1h-1zM391 317h1v1h-1zM392 318h1v1h-1zM393 319h1v1h-1zM393 320h1v1h-1zM394 321h1v1h-1zM395 322h1v1h-1zM396 323h1v1h-1zM397 324h1v1h-1zM398 325h1v1h-1zM398 326h1v1h-1zM399 327h1v1h-1zM400 328h1v1h-1zM401 329h1v1h-1zM401 330h1v1h-1zM402 331h1v1h-1zM403 332h1v1h-1zM404 333h1v1h-1zM404 334h1v1h-1zM405 335h1v1h-1zM406 336h1v1h-1zM407 337h1v1h-1zM408 338h1v1h-1zM409 339h1v1h-1zM410 340h1v1h-1zM411 341h1v1h-1zM412 342h1v1h-1zM413 343h1v1h-1zM414 344h1v1h-1zM415 345h1v1h-1zM416 346h1v1h-1zM417 347h1v1h-1zM417 348h1v1h-1zM418 349h1v1h-1zM419 350h1v1h-1zM420 351h1v1h-1zM421 352h2v1h-2zM423 353h2v1h-2zM425 354h3v1h-3zM428 355h2v1h-2zM430 356h2v1h-2zM432 357h2v1h-2zM434 358h2v1h-2zM436 359h2v1h-2zM438 360h2v1h-2zM440 361h1v1h-1zM441 362h2v1h-2zM443 363h2v1h-2zM445 364h4v1h-4zM449 365h5v1h-5zM454 364h1v1h-1zM455 363h1v1h-1zM456 362h1v1h-1zM457 361h2v1h-2zM459 360h1v1h-1zM460 359h1v1h-1zM461 358h1v1h-1zM462 357h1v1h-1zM463 356h1v1h-1zM464 355h1v1h-1zM465 354h1v1h-1zM466 353h1v1h-1zM467 352h1v1h-1zM468 351h1v1h-1zM469 350h1v1h-1zM470 349h1v1h-1zM471 348h1v1h-1zM472 347h1v1h-1zM473 346h2v1h-2zM475 345h1v1h-1zM476 344h1v1h-1zM477 343h1v1h-1zM478 342h2v1h-2zM480 341h2v1h-2zM482 340h2v1h-2zM484 339h3v1h-3zM487 338h4v1h-4zM491 337h4v1h-4zM495 338h2v1h-2zM497 339h3v1h-3zM500 340h2v1h-2zM502 341h2v1h-2zM504 342h2v1h-2zM506 343h2v1h-2zM508 344h5v1h-5zM513 345h6v1h-6zM519 346h4v1h-4zM523 347h4v1h-4zM527 348h4v1h-4zM531 349h4v1h-4zM535 350h2v1h-2zM537 351h3v1h-3zM540 352h5v1h-5zM545 353h8v1h-8zM553 352h8v1h-8zM561 353h6v1h-6zM567 354h2v1h-2zM569 355h3v1h-3zM572 356h2v1h-2zM574 357h1v1h-1zM575 358h2v1h-2zM577 359h1v1h-1zM578 360h1v1h-1zM579 361h2v1h-2zM581 362h1v1h-1zM582 363h1v1h-1zM583 364h1v1h-1zM584 365h1v1h-1zM585 366h1v1h-1zM586 367h1v1h-1zM587 368h1v1h-1zM588 369h1v1h-1zM589 370h1v1h-1zM590 371h1v1h-1zM591 372h2v1h-2zM593 373h1v1h-1zM594 374h1v1h-1zM595 375h2v1h-2zM597 376h2v1h-2zM599 377h2v1h-2zM601 378h3v1h-3zM604 379h10v1h-10zM614 378h1v1h-1zM615 377h1v1h-1zM616 376h1v1h-1zM617 375h2v1h-2zM619 374h1v1h-1zM620 373h1v1h-1zM621 372h1v1h-1zM622 371h1v1h-1zM623 370h1v1h-1zM624 369h1v1h-1zM625 368h1v1h-1zM626 367h1v1h-1zM627 366h1v1h-1zM628 365h1v1h-1zM629 364h1v1h-1zM630 363h2v1h-2zM632 362h1v1h-1zM633 361h2v1h-2zM635 360h2v1h-2zM637 359h1v1h-1zM638 358h1v1h-1zM639 357h1v1h-1zM639 356h1v1h-1zM640 355h1v1h-1zM641 354h1v1h-1zM642 353h1v1h-1zM643 352h1v1h-1zM643 351h1v1h-1zM644 350h1v1h-1zM645 349h1v1h-1zM646 348h1v1h-1zM646 347h1v1h-1zM647 346h1v1h-1zM647 345h1v1h-1zM648 344h1v1h-1zM648 343h1v1h-1zM649 342h1v1h-1zM649 341h1v1h-1zM650 340h1v1h-1zM650 339h1v1h-1zM651 338h1v1h-1zM651 337h1v1h-1zM652 336h1v1h-1zM652 335h1v1h-1zM653 334h1v1h-1zM654 333h1v1h-1zM654 332h1v1h-1zM655 331h1v1h-1zM656 330h1v1h-1zM657 329h1v1h-1zM657 328h1v1h-1zM658 327h1v1h-1zM659 326h1v1h-1zM660 325h1v1h-1zM660 324h1v1h-1zM661 323h1v1h-1zM662 322h1v1h-1zM663 321h1v1h-1zM663 320h1v1h-1zM664 319h1v1h-1zM665 318h1v1h-1zM666 317h1v1h-1zM667 316h1v1h-1zM667 315h1v1h-1zM668 314h1v1h-1zM669 313h1v1h-1zM670 312h1v1h-1zM671 311h1v1h-1zM671 310h1v1h-1zM672 309h1v1h-1zM673 308h1v1h-1zM674 307h1v1h-1zM675 306h1v1h-1zM675 305h1v1h-1zM676 304h1v1h-1zM677 303h1v1h-1zM678 302h1v1h-1zM679 301h1v1h-1zM680 300h1v1h-1zM681 299h1v1h-1zM682 298h1v1h-1zM683 297h1v1h-1zM684 296h1v1h-1zM685 295h1v1h-1zM686 294h1v1h-1zM687 293h1v1h-1zM687 292h1v1h-1zM688 291h1v1h-1zM689 290h1v1h-1zM690 289h1v1h-1zM691 288h1v1h-1zM691 287h1v1h-1zM692 286h1v1h-1zM693 285h1v1h-1zM694 284h1v1h-1zM695 283h2v1h-2zM697 282h1v1h-1zM698 281h1v1h-1zM699 280h2v1h-2zM701 279h1v1h-1zM702 278h1v1h-1zM703 277h1v1h-1zM704 276h1v1h-1zM705 275h2v1h-2zM707 274h1v1h-1zM708 273h1v1h-1zM709 272h1v1h-1zM710 271h2v1h-2zM712 270h2v1h-2zM714 269h2v1h-2zM716 268h3v1h-3zM719 267h4v1h-4zM723 266h12v1h-12zM735 265h2v1h-2zM737 264h3v1h-3zM740 263h2v1h-2zM742 262h1v1h-1zM742 261h1v1h-1zM743 260h1v1h-1zM744 259h1v1h-1zM744 258h1v1h-1zM745 257h1v1h-1zM746 256h1v1h-1zM746 255h1v1h-1zM747 254h1v1h-1zM748 253h1v1h-1zM748 252h1v1h-1zM749 251h1v1h-1zM750 250h1v1h-1zM751 249h1v1h-1zM752 248h1v1h-1zM753 247h1v1h-1zM753 246h1v1h-1zM754 245h1v1h-1zM755 244h1v1h-1zM756 243h1v1h-1zM757 242h1v1h-1zM758 241h2v1h-2zM760 240h1v1h-1zM761 239h2v1h-2zM763 238h2v1h-2zM765 237h1v1h-1zM766 236h2v1h-2zM768 235h2v1h-2zM770 234h2v1h-2zM772 233h2v1h-2zM774 232h2v1h-2zM776 231h1v1h-1zM777 230h2v1h-2zM779 229h2v1h-2zM781 228h1v1h-1zM782 227h2v1h-2zM784 226h2v1h-2zM786 225h2v1h-2zM788 224h2v1h-2zM790 223h1v1h-1zM791 222h1v1h-1zM792 221h1v1h-1zM793 220h2v1h-2zM795 219h1v1h-1zM796 218h1v1h-1zM797 217h1v1h-1zM798 216h1v1h-1zM799 215h2v1h-2zM801 214h1v1h-1zM802 213h1v1h-1zM803 212h2v1h-2zM805 211h1v1h-1zM806 210h1v1h-1zM807 209h1v1h-1zM808 208h1v1h-1zM809 207h2v1h-2zM811 206h1v1h-1zM812 205h1v1h-1zM813 204h1v1h-1zM814 203h1v1h-1zM815 202h1v1h-1zM816 201h1v1h-1zM817 200h2v1h-2zM819 199h1v1h-1zM820 198h1v1h-1zM821 197h1v1h-1zM822 196h2v1h-2zM824 195h1v1h-1zM825 194h2v1h-2zM827 193h2v1h-2zM829 192h1v1h-1zM830 191h1v1h-1zM831 190h1v1h-1zM832 189h1v1h-1zM833 188h2v1h-2zM835 187h1v1h-1zM836 186h1v1h-1zM837 185h4v1h-4zM841 186h5v1h-5zM846 187h1v1h-1zM847 188h2v1h-2zM849 189h1v1h-1zM850 190h1v1h-1zM851 191h2v1h-2zM853 192h1v1h-1zM854 193h1v1h-1zM854 194h1v1h-1zM855 195h1v1h-1zM855 196h1v1h-1zM856 197h1v1h-1zM857 198h1v1h-1zM857 199h1v1h-1zM858 200h1v1h-1zM859 201h1v1h-1zM859 202h1v1h-1zM860 203h1v1h-1zM860 204h1v1h-1zM861 205h1v1h-1zM862 206h1v1h-1zM862 207h1v1h-1zM863 208h1v1h-1zM863 209h1v1h-1zM864 210h1v1h-1zM864 211h1v1h-1zM865 212h1v1h-1zM865 213h1v1h-1zM866 214h1v1h-1zM866 215h1v1h-1zM867 216h1v1h-1zM867 217h1v1h-1zM868 218h1v1h-1zM868 219h1v1h-1zM869 220h1v1h-1zM870 221h1v1h-1zM870 222h1v1h-1zM871 223h1v1h-1zM872 224h1v1h-1zM872 225h1v1h-1zM873 226h1v1h-1zM874 227h1v1h-1zM874 228h1v1h-1zM875 229h1v1h-1zM876 230h1v1h-1zM876 231h1v1h-1zM877 232h1v1h-1zM878 233h1v1h-1zM879 234h1v1h-1zM879 235h1v1h-1zM880 236h1v1h-1zM881 237h1v1h-1zM882 238h1v1h-1zM883 239h1v1h-1zM883 240h1v1h-1zM884 241h1v1h-1zM885 242h1v1h-1zM886 243h1v1h-1zM887 244h1v1h-1zM888 245h1v1h-1zM889 246h1v1h-1zM890 247h1v1h-1zM891 248h1v1h-1zM892 249h1v1h-1zM893 250h1v1h-1zM894 251h1v1h-1zM895 252h1v1h-1zM896 253h1v1h-1zM897 254h1v1h-1zM897 255h1v1h-1zM898 256h1v1h-1zM899 257h1v1h-1zM900 258h1v1h-1zM901 259h1v1h-1zM902 260h1v1h-1zM903 261h1v1h-1zM903 262h1v1h-1zM904 263h1v1h-1zM905 264h1v1h-1zM906 265h1v1h-1zM907 266h1v1h-1zM907 267h1v1h-1zM908 268h1v1h-1zM909 269h1v1h-1zM910 270h1v1h-1zM910 271h1v1h-1zM911 272h1v1h-1zM911 273h1v1h-1zM912 274h1v1h-1zM913 275h1v1h-1zM913 276h1v1h-1zM914 277h1v1h-1zM915 278h1v1h-1zM915 279h1v1h-1zM916 280h1v1h-1zM916 281h1v1h-1zM917 282h1v1h-1zM918 283h2v1h-2zM920 284h1v1h-1zM921 285h2v1h-2zM923 286h2v1h-2zM925 287h2v1h-2zM927 288h4v1h-4zM931 289h3v1h-3zM934 290h1v1h-1zM935 291h2v1h-2zM937 292h1v1h-1zM938 293h1v1h-1zM939 294h2v1h-2zM941 295h1v1h-1zM942 296h1v1h-1zM943 297h2v1h-2zM945 298h1v1h-1zM946 299h1v1h-1zM947 300h2v1h-2zM949 301h4v1h-4zM953 302h5v1h-5zM958 303h1v1h-1zM959 304h1v1h-1zM960 305h1v1h-1zM961 306h2v1h-2zM963 307h1v1h-1zM964 308h1v1h-1zM965 309h1v1h-1zM966 310h1v1h-1zM967 311h2v1h-2zM969 312h1v1h-1zM970 313h1v1h-1zM971 314h2v1h-2zM973 315h1v1h-1zM974 316h2v1h-2zM976 317h1v1h-1zM977 318h2v1h-2zM979 319h2v1h-2zM981 320h1v1h-1zM982 321h1v1h-1zM982 322h1v1h-1zM983 323h1v1h-1zM984 324h1v1h-1zM985 325h1v1h-1zM985 326h1v1h-1zM986 327h1v1h-1zM987 328h1v1h-1zM988 329h1v1h-1zM988 330h1v1h-1zM989 331h1v1h-1zM990 332h1v1h-1zM991 333h1v1h-1zM991 334h1v1h-1zM992 335h1v1h-1zM993 336h1v1h-1zM994 337h1v1h-1zM995 338h1v1h-1zM995 339h1v1h-1zM996 340h1v1h-1zM997 341h1v1h-1zM998 342h1v1h-1zM998 343h1v1h-1zM999 344h1v1h-1zM1000 345h1v1h-1zM1001 346h1v1h-1zM1001 347h1v1h-1zM1002 348h1v1h-1zM1003 349h1v1h-1zM1004 350h1v1h-1zM1004 351h1v1h-1zM1005 352h1v1h-1zM1006 353h1v1h-1zM1007 354h1v1h-1zM1007 355h1v1h-1zM1008 356h1v1h-1zM1009 357h1v1h-1zM1010 358h1v1h-1zM1011 359h1v1h-1zM1011 360h1v1h-1zM1012 361h1v1h-1zM1013 362h1v1h-1zM1014 363h1v1h-1zM1014 364h1v1h-1zM1015 365h1v1h-1zM1015 366h1v1h-1zM1016 367h1v1h-1zM1016 368h1v1h-1zM1017 369h1v1h-1zM1017 370h1v1h-1zM1018 371h1v1h-1zM1018 372h1v1h-1zM1019 373h1v1h-1zM1019 374h1v1h-1zM1020 375h1v1h-1zM1020 376h1v1h-1zM1021 377h1v1h-1zM1022 378h1v1h-1zM1022 379h1v1h-1zM1023 380h1v1h-1zM1024 381h1v1h-1zM1024 382h1v1h-1zM1025 383h1v1h-1zM1026 384h1v1h-1zM1026 385h1v1h-1zM1027 386h1v1h-1zM1028 387h1v1h-1zM1028 388h1v1h-1zM1029 389h1v1h-1zM1030 390h1v1h-1zM1031 391h1v1h-1zM1031 392h1v1h-1zM1032 393h1v1h-1zM1033 394h1v1h-1zM1034 395h1v1h-1zM1035 396h1v1h-1zM1035 397h1v1h-1zM1036 398h1v1h-1zM1037 399h1v1h-1zM1038 400h1v1h-1zM1038 401h1v1h-1zM1039 402h1v1h-1zM1039 403h1v1h-1zM1040 404h1v1h-1zM1041 405h1v1h-1zM1041 406h1v1h-1zM1042 407h1v1h-1zM1043 408h1v1h-1zM1043 409h1v1h-1zM1044 410h1v1h-1zM1044 411h1v1h-1zM1045 412h2v1h-2zM1047 411h4v1h-4zM1051 410h6v1h-6zM1057 411h14v1h-14zM1071 410h2v1h-2zM1073 409h3v1h-3zM1076 408h2v1h-2zM1078 407h1v1h-1zM1079 406h2v1h-2zM1081 405h1v1h-1zM1082 404h1v1h-1zM1083 403h2v1h-2zM1085 402h1v1h-1zM1086 401h2v1h-2zM1088 400h1v1h-1zM1089 399h2v1h-2zM1091 398h2v1h-2zM1093 397h1v1h-1zM1094 396h1v1h-1zM1095 395h1v1h-1zM1096 394h1v1h-1zM1097 393h1v1h-1zM1098 392h1v1h-1zM1099 391h1v1h-1zM1100 390h1v1h-1zM1101 389h1v1h-1zM1102 388h2v1h-2zM1104 387h2v1h-2zM1106 386h2v1h-2zM1108 385h3v1h-3zM1111 384h4v1h-4zM1115 383h3v1h-3z" fill="#ff0000"/>
<path d="M5 144h1v1h-1zM6 145h1v1h-1zM7 146h1v1h-1zM8 147h1v1h-1zM9 148h1v1h-1zM9 149h1v1h-1zM10 150h1v1h-1zM11 151h1v1h-1zM12 152h1v1h-1zM13 153h1v1h-1zM14 154h1v1h-1zM14 155h1v1h-1zM15 156h1v1h-1zM15 157h1v1h-1zM16 158h1v1h-1zM16 159h1v1h-1zM17 160h1v1h-1zM18 161h1v1h-1zM18 162h1v1h-1zM19 163h1v1h-1zM19 164h1v1h-1zM20 165h1v1h-1zM20 166h1v1h-1zM21 167h1v1h-1zM21 168h1v1h-1zM22 169h1v1h-1zM22 170h1v1h-1zM22 171h1v1h-1zM23 172h1v1h-1zM23 173h1v1h-1zM23 174h1v1h-1zM24 175h1v1h-1zM24 176h1v1h-1zM24 177h1v1h-1zM25 178h1v1h-1zM25 179h1v1h-1zM26 180h1v1h-1zM26 181h1v1h-1zM26 182h1v1h-1zM27 183h1v1h-1zM27 184h1v1h-1zM27 185h1v1h-1zM28 186h1v1h-1zM28 187h1v1h-1zM28 188h1v1h-1zM29 189h1v1h-1zM29 190h1v1h-1zM29 191h1v1h-1zM30 192h1v1h-1zM30 193h1v1h-1zM30 194h1v1h-1zM31 195h1v1h-1zM31 196h1v1h-1zM31 197h1v1h-1zM31 198h1v1h-1zM32 199h1v1h-1zM32 200h1v1h-1zM32 201h1v1h-1zM33 202h1v1h-1zM33 203h1v1h-1zM33 204h1v1h-1zM34 205h1v1h-1zM34 206h1v1h-1zM34 207h1v1h-1zM35 208h1v1h-1zM35 209h1v1h-1zM35 210h1v1h-1zM35 211h1v1h-1zM36 212h1v1h-1zM36 213h1v1h-1zM36 214h1v1h-1zM37 215h1v1h-1zM37 216h1v1h-1zM37 217h1v1h-1zM38 218h1v1h-1zM38 219h1v1h-1zM38 220h1v1h-1zM39 221h1v1h-1zM39 222h1v1h-1zM39 223h1v1h-1zM40 224h1v1h-1zM40 225h1v1h-1zM40 226h1v1h-1zM41 227h1v1h-1zM41 228h1v1h-1zM41 229h1v1h-1zM41 230h1v1h-1zM42 231h1v1h-1zM42 232h1v1h-1zM42 233h1v1h-1zM43 234h1v1h-1zM43 235h1v1h-1zM43 236h1v1h-1zM44 237h1v1h-1zM44 238h1v1h-1zM44 239h1v1h-1zM45 240h1v1h-1zM45 241h1v1h-1zM45 242h1v1h-1zM46 243h1v1h-1zM46 244h1v1h-1zM47 245h1v1h-1zM47 246h1v1h-1zM47 247h1v1h-1zM48 248h1v1h-1zM48 249h1v1h-1zM48 250h1v1h-1zM49 251h1v1h-1zM49 252h1v1h-1zM50 253h1v1h-1zM50 254h1v1h-1zM50 255h1v1h-1zM51 256h1v1h-1zM51 257h1v1h-1zM51 258h1v1h-1zM52 259h1v1h-1zM52 260h1v1h-1zM53 261h1v1h-1zM53 262h1v1h-1zM54 263h1v1h-1zM55 264h1v1h-1zM56 265h1v1h-1zM57 266h1v1h-1zM58 267h1v1h-1zM59 268h1v1h-1zM60 269h1v1h-1zM61 270h1v1h-1zM62 269h2v1h-2zM64 268h2v1h-2zM66 267h2v1h-2zM68 266h5v1h-5zM73 267h5v1h-5zM77 266h1v1h-1zM78 265h1v1h-1zM78 264h1v1h-1zM79 263h1v1h-1zM79 262h1v1h-1zM79 261h1v1h-1zM80 260h1v1h-1zM80 259h1v1h-1zM81 258h1v1h-1zM81 257h1v1h-1zM81 256h1v1h-1zM82 255h1v1h-1zM82 254h1v1h-1zM83 253h1v1h-1zM83 252h1v1h-1zM83 251h1v1h-1zM84 250h1v1h-1zM84 249h1v1h-1zM85 248h1v1h-1zM85 247h1v1h-1zM86 246h1v1h-1zM86 245h1v1h-1zM87 244h1v1h-1zM87 243h1v1h-1zM88 242h1v1h-1zM89 241h1v1h-1zM89 240h1v1h-1zM90 239h1v1h-1zM91 238h1v1h-1zM91 237h1v1h-1zM92 236h1v1h-1zM92 235h1v1h-1zM93 234h1v1h-1zM93 233h1v1h-1zM94 232h1v1h-1zM94 231h1v1h-1zM95 230h1v1h-1zM95 229h1v1h-1zM96 228h1v1h-1zM96 227h1v1h-1zM97 226h1v1h-1zM97 225h1v1h-1zM97 224h1v1h-1zM98 223h1v1h-1zM98 222h1v1h-1zM99 221h1v1h-1zM99 220h1v1h-1zM100 219h1v1h-1zM100 218h1v1h-1zM101 217h1v1h-1zM101 216h1v1h-1zM102 215h1v1h-1zM102 214h1v1h-1zM103 213h1v1h-1zM103 212h1v1h-1zM104 211h1v1h-1zM104 210h1v1h-1zM105 209h1v1h-1zM105 208h1v1h-1zM106 207h1v1h-1zM106 206h1v1h-1zM107 205h1v1h-1zM107 204h1v1h-1zM108 203h1v1h-1zM108 202h1v1h-1zM109 201h1v1h-1zM109 200h1v1h-1zM109 199h1v1h-1zM110 198h1v1h-1zM110 197h1v1h-1zM110 196h1v1h-1zM111 195h1v1h-1zM111 194h1v1h-1zM111 193h1v1h-1zM112 192h1v1h-1zM112 191h1v1h-1zM112 190h1v1h-1zM113 189h1v1h-1zM113 188h1v1h-1zM113 187h1v1h-1zM113 186h1v1h-1zM114 185h1v1h-1zM114 184h1v1h-1zM114 183h1v1h-1zM115 182h1v1h-1zM115 181h1v1h-1zM115 180h1v1h-1zM116 179h1v1h-1zM116 178h1v1h-1zM116 177h1v1h-1zM117 176h1v1h-1zM117 175h1v1h-1zM118 174h1v1h-1zM119 173h1v1h-1zM120 172h1v1h-1zM121 171h2v1h-2zM123 170h1v1h-1zM124 169h1v1h-1zM125 168h2v1h-2zM127 169h4v1h-4zM131 170h3v1h-3zM134 171h2v1h-2zM136 172h2v1h-2zM138 173h2v1h-2zM140 174h5v1h-5zM145 175h5v1h-5zM150 176h1v1h-1zM150 177h1v1h-1zM151 178h1v1h-1zM152 179h1v1h-1zM153 180h1v1h-1zM153 181h1v1h-1zM154 182h1v1h-1zM155 183h1v1h-1zM156 184h1v1h-1zM156 185h1v1h-1zM157 186h1v1h-1zM157 187h1v1h-1zM158 188h1v1h-1zM158 189h1v1h-1zM159 190h1v1h-1zM159 191h1v1h-1zM160 192h1v1h-1zM160 193h1v1h-1zM161 194h1v1h-1zM161 195h1v1h-1zM162 196h1v1h-1zM162 197h1v1h-1zM163 198h1v1h-1zM163 199h1v1h-1zM164 200h1v1h-1zM164 201h1v1h-1zM165 202h1v1h-1zM165 203h1v1h-1zM165 204h1v1h-1zM165 205h1v1h-1zM166 206h1v1h-1zM166 207h1v1h-1zM166 208h1v1h-1zM166 209h1v1h-1zM167 210h1v1h-1zM167 211h1v1h-1zM167 212h1v1h-1zM167 213h1v1h-1zM168 214h1v1h-1zM168 215h1v1h-1zM168 216h1v1h-1zM168 217h1v1h-1zM169 218h1v1h-1zM169 219h1v1h-1zM169 220h1v1h-1zM169 221h1v1h-1zM169 222h1v1h-1zM170 223h1v1h-1zM170 224h1v1h-1zM170 225h1v1h-1zM170 226h1v1h-1zM171 227h1v1h-1zM171 228h1v1h-1zM171 229h1v1h-1zM171 230h1v1h-1zM172 231h1v1h-1zM172 232h1v1h-1zM172 233h1v1h-1zM172 234h1v1h-1zM173 235h1v1h-1zM173 236h1v1h-1zM173 237h1v1h-1zM173 238h1v1h-1zM174 239h1v1h-1zM174 240h1v1h-1zM174 241h1v1h-1zM174 242h1v1h-1zM175 243h1v1h-1zM175 244h1v1h-1zM175 245h1v1h-1zM176 246h1v1h-1zM176 247h1v1h-1zM176 248h1v1h-1zM177 249h1v1h-1zM177 250h1v1h-1zM177 251h1v1h-1zM177 252h1v1h-1zM178 253h1v1h-1zM178 254h1v1h-1zM178 255h1v1h-1zM179 256h1v1h-1zM179 257h1v1h-1zM179 258h1v1h-1zM180 259h1v1h-1zM180 260h1v1h-1zM180 261h1v1h-1zM180 262h1v1h-1zM181 263h1v1h-1zM181 264h1v1h-1zM182 265h1v1h-1zM182 266h1v1h-1zM183 267h1v1h-1zM184 268h1v1h-1zM184 269h1v1h-1zM185 270h1v1h-1zM186 271h1v1h-1zM186 272h1v1h-1zM187 273h1v1h-1zM188 274h1v1h-1zM188 275h1v1h-1zM189 276h1v1h-1zM190 277h1v1h-1zM190 278h1v1h-1zM191 279h1v1h-1zM191 280h1v1h-1zM192 281h1v1h-1zM192 282h1v1h-1zM193 283h1v1h-1zM193 284h1v1h-1zM194 285h1v1h-1zM194 286h1v1h-1zM195 287h1v1h-1zM195 288h1v1h-1zM196 289h1v1h-1zM196 290h1v1h-1zM197 291h1v1h-1zM197 292h1v1h-1zM198 293h1v1h-1zM198 294h1v1h-1zM199 295h1v1h-1zM199 296h1v1h-1zM200 297h1v1h-1zM200 298h1v1h-1zM200 299h1v1h-1zM201 300h1v1h-1zM201 301h1v1h-1zM202 302h1v1h-1zM202 303h1v1h-1zM202 304h1v1h-1zM203 305h1v1h-1zM203 306h1v1h-1zM204 307h1v1h-1zM204 308h1v1h-1zM205 309h1v1h-1zM205 310h1v1h-1zM206 311h2v1h-2zM208 312h1v1h-1zM209 313h2v1h-2zM211 314h2v1h-2zM213 315h1v1h-1zM214 316h2v1h-2zM216 317h1v1h-1zM217 318h2v1h-2zM219 319h2v1h-2zM221 320h2v1h-2zM223 321h4v1h-4zM227 322h11v1h-11zM238 321h1v1h-1zM239 320h2v1h-2zM241 319h1v1h-1zM242 318h1v1h-1zM243 317h2v1h-2zM245 316h1v1h-1zM246 315h1v1h-1zM247 314h1v1h-1zM247 313h1v1h-1zM248 312h1v1h-1zM249 311h1v1h-1zM250 310h1v1h-1zM251 309h1v1h-1zM251 308h1v1h-1zM252 307h1v1h-1zM253 306h1v1h-1zM254 305h1v1h-1zM254 304h1v1h-1zM255 303h1v1h-1zM255 302h1v1h-1zM256 301h1v1h-1zM257 300h1v1h-1zM257 299h1v1h-1zM258 298h1v1h-1zM259 297h1v1h-1zM259 296h1v1h-1zM260 295h1v1h-1zM260 294h1v1h-1zM261 293h2v1h-2zM263 292h4v1h-4zM267 291h3v1h-3zM270 290h1v1h-1zM270 289h1v1h-1zM271 288h1v1h-1zM271 287h1v1h-1zM272 286h1v1h-1zM273 285h1v1h-1zM273 284h1v1h-1zM274 283h1v1h-1zM275 282h1v1h-1zM275 281h1v1h-1zM276 280h1v1h-1zM276 279h1v1h-1zM277 278h1v1h-1zM278 277h1v1h-1zM278 276h1v1h-1zM279 275h1v1h-1zM279 274h1v1h-1zM280 273h1v1h-1zM280 272h1v1h-1zM281 271h1v1h-1zM282 270h1v1h-1zM282 269h1v1h-1zM283 268h1v1h-1zM283 267h1v1h-1zM284 266h1v1h-1zM284 265h1v1h-1zM285 264h1v1h-1zM286 263h1v1h-1zM286 262h1v1h-1zM287 261h1v1h-1zM287 260h1v1h-1zM288 259h1v1h-1zM288 258h1v1h-1zM289 257h1v1h-1zM289 256h1v1h-1zM290 255h1v1h-1zM290 254h1v1h-1zM291 253h1v1h-1zM291 252h1v1h-1zM292 251h1v1h-1zM292 250h1v1h-1zM293 249h1v1h-1zM294 248h2v1h-2zM296 247h1v1h-1zM297 246h2v1h-2zM299 245h2v1h-2zM301 244h1v1h-1zM302 243h1v1h-1zM303 242h2v1h-2zM305 241h1v1h-1zM306 240h1v1h-1zM307 239h2v1h-2zM309 238h1v1h-1zM310 239h1v1h-1zM311 240h1v1h-1zM312 241h1v1h-1zM313 242h1v1h-1zM314 243h1v1h-1zM315 244h1v1h-1zM316 245h1v1h-1zM317 246h2v1h-2zM319 247h2v1h-2zM321 248h3v1h-3zM324 249h2v1h-2zM326 250h1v1h-1zM327 251h2v1h-2zM329 252h1v1h-1zM330 253h1v1h-1zM331 254h2v1h-2zM333 255h1v1h-1zM334 256h1v1h-1zM334 257h1v1h-1zM335 258h1v1h-1zM335 259h1v1h-1zM336 260h1v1h-1zM336 261h1v1h-1zM337 262h1v1h-1zM338 263h1v1h-1zM338 264h1v1h-1zM339 265h1v1h-1zM339 266h1v1h-1zM340 267h1v1h-1zM340 268h1v1h-1zM341 269h1v1h-1zM341 270h1v1h-1zM342 271h1v1h-1zM342 272h1v1h-1zM342 273h1v1h-1zM343 274h1v1h-1zM343 275h1v1h-1zM343 276h1v1h-1zM344 277h1v1h-1zM344 278h1v1h-1zM344 279h1v1h-1zM345 280h1v1h-1zM345 281h1v1h-1zM345 282h1v1h-1zM345 283h1v1h-1zM346 284h1v1h-1zM346 285h1v1h-1zM346 286h1v1h-1zM347 287h1v1h-1zM347 288h1v1h-1zM347 289h1v1h-1zM348 290h1v1h-1zM348 291h1v1h-1zM348 292h1v1h-1zM349 293h1v1h-1zM349 294h1v1h-1zM349 295h1v1h-1zM350 296h1v1h-1zM350 297h1v1h-1zM350 298h1v1h-1zM351 299h1v1h-1zM351 300h1v1h-1zM351 301h1v1h-1zM351 302h1v1h-1zM352 303h1v1h-1zM352 304h1v1h-1zM352 305h1v1h-1zM353 306h1v1h-1zM353 307h1v1h-1zM353 308h1v1h-1zM354 309h1v1h-1zM354 310h1v1h-1zM354 311h1v1h-1zM355 312h1v1h-1zM355 313h1v1h-1zM355 314h1v1h-1zM355 315h1v1h-1zM356 316h1v1h-1zM356 317h1v1h-1zM356 318h1v1h-1zM357 319h1v1h-1zM357 320h1v1h-1zM357 321h1v1h-1zM358 322h1v1h-1zM358 323h1v1h-1zM358 324h1v1h-1zM359 325h1v1h-1zM359 326h1v1h-1zM359 327h1v1h-1zM360 328h1v1h-1zM360 329h1v1h-1zM360 330h1v1h-1zM361 331h1v1h-1zM361 332h1v1h-1zM361 333h1v1h-1zM362 334h1v1h-1zM362 335h1v1h-1zM362 336h1v1h-1zM363 337h1v1h-1zM363 338h1v1h-1zM363 339h1v1h-1zM364 340h1v1h-1zM364 341h1v1h-1zM364 342h1v1h-1zM365 343h1v1h-1zM365 344h1v1h-1zM366 345h1v1h-1zM366 346h1v1h-1zM367 347h1v1h-1zM367 348h1v1h-1zM368 349h1v1h-1zM368 350h1v1h-1zM369 351h1v1h-1zM370 352h1v1h-1zM370 353h1v1h-1zM371 354h1v1h-1zM371 355h1v1h-1zM372 356h1v1h-1zM372 357h1v1h-1zM373 358h1v1h-1zM374 359h1v1h-1zM375 360h1v1h-1zM375 361h1v1h-1zM376 362h1v1h-1zM377 363h1v1h-1zM378 364h1v1h-1zM379 365h1v1h-1zM379 366h1v1h-1zM380 367h1v1h-1zM381 368h1v1h-1zM382 369h1v1h-1zM383 370h1v1h-1zM384 371h1v1h-1zM385 372h2v1h-2zM387 373h1v1h-1zM388 374h1v1h-1zM389 375h1v1h-1zM390 376h2v1h-2zM392 377h2v1h-2zM394 378h2v1h-2zM396 379h2v1h-2zM398 378h2v1h-2zM400 377h2v1h-2zM402 376h2v1h-2zM404 375h2v1h-2zM406 374h1v1h-1zM407 373h1v1h-1zM408 372h1v1h-1zM409 371h1v1h-1zM409 370h1v1h-1zM410 369h1v1h-1zM411 368h1v1h-1zM412 367h1v1h-1zM413 366h1v1h-1zM414 365h1v1h-1zM415 364h2v1h-2zM417 363h1v1h-1zM418 362h1v1h-1zM419 361h2v1h-2zM421 360h1v1h-1zM422 359h1v1h-1zM423 358h1v1h-1zM424 357h1v1h-1zM425 356h1v1h-1zM426 355h1v1h-1zM427 354h1v1h-1zM428 353h1v1h-1zM429 352h4v1h-4zM433 351h6v1h-6zM439 352h2v1h-2zM441 353h3v1h-3zM444 354h3v1h-3zM447 353h2v1h-2zM449 352h3v1h-3zM452 351h2v1h-2zM454 350h1v1h-1zM455 349h1v1h-1zM455 348h1v1h-1zM456 347h1v1h-1zM457 346h1v1h-1zM458 345h1v1h-1zM459 344h1v1h-1zM459 343h1v1h-1zM460 342h1v1h-1zM461 341h1v1h-1zM462 340h1v1h-1zM463 339h1v1h-1zM464 338h1v1h-1zM465 337h2v1h-2zM467 336h1v1h-1zM468 335h1v1h-1zM469 334h1v1h-1zM470 333h1v1h-1zM471 332h1v1h-1zM472 331h1v1h-1zM473 330h1v1h-1zM474 329h1v1h-1zM475 328h1v1h-1zM476 327h1v1h-1zM477 326h10v1h-10zM487 325h2v1h-2zM489 324h3v1h-3zM492 323h2v1h-2zM494 324h2v1h-2zM496 325h2v1h-2zM498 326h2v1h-2zM500 327h2v1h-2zM502 328h1v1h-1zM503 329h1v1h-1zM503 330h1v1h-1zM504 331h1v1h-1zM505 332h1v1h-1zM506 333h1v1h-1zM507 334h1v1h-1zM507 335h1v1h-1zM508 336h1v1h-1zM509 337h1v1h-1zM510 338h1v1h-1zM510 339h1v1h-1zM511 340h1v1h-1zM512 341h1v1h-1zM513 342h1v1h-1zM513 343h1v1h-1zM514 344h1v1h-1zM515 345h1v1h-1zM516 346h1v1h-1zM516 347h1v1h-1zM517 348h1v1h-1zM518 349h1v1h-1zM518 350h1v1h-1zM519 351h1v1h-1zM520 352h1v1h-1zM520 353h1v1h-1zM521 354h1v1h-1zM522 355h1v1h-1zM522 356h1v1h-1zM523 357h1v1h-1zM524 358h1v1h-1zM524 359h1v1h-1zM525 360h1v1h-1zM526 361h1v1h-1zM526 362h1v1h-1zM527 363h1v1h-1zM528 364h1v1h-1zM529 365h1v1h-1zM529 366h1v1h-1zM530 367h1v1h-1zM531 368h1v1h-1zM532 369h1v1h-1zM532 370h1v1h-1zM533 371h1v1h-1zM534 372h1v1h-1zM535 373h1v1h-1zM536 374h1v1h-1zM537 375h1v1h-1zM538 376h1v1h-1zM539 377h1v1h-1zM540 378h1v1h-1zM541 379h1v1h-1zM542 380h2v1h-2zM544 381h2v1h-2zM546 382h2v1h-2zM548 383h2v1h-2zM550 382h1v1h-1zM551 381h2v1h-2zM553 380h1v1h-1zM554 379h1v1h-1zM555 378h2v1h-2zM557 377h1v1h-1zM558 376h1v1h-1zM559 375h1v1h-1zM560 374h1v1h-1zM561 373h1v1h-1zM562 372h1v1h-1zM563 371h1v1h-1zM564 370h1v1h-1zM565 369h1v1h-1zM566 368h2v1h-2zM568 367h1v1h-1zM569 366h2v1h-2zM571 365h2v1h-2zM573 364h9v1h-9zM582 365h2v1h-2zM584 366h2v1h-2zM586 367h2v1h-2zM588 368h2v1h-2zM590 369h2v1h-2zM592 370h1v1h-1zM593 371h2v1h-2zM595 372h2v1h-2zM597 373h2v1h-2zM599 374h4v1h-4zM603 375h3v1h-3zM606 376h1v1h-1zM607 377h2v1h-2zM609 378h1v1h-1zM610 379h1v1h-1zM611 380h2v1h-2zM613 381h1v1h-1zM614 380h1v1h-1zM615 379h1v1h-1zM616 378h1v1h-1zM617 377h2v1h-2zM619 376h1v1h-1zM620 375h1v1h-1zM621 374h1v1h-1zM622 373h1v1h-1zM623 372h1v1h-1zM623 371h1v1h-1zM624 370h1v1h-1zM625 369h1v1h-1zM626 368h1v1h-1zM627 367h1v1h-1zM627 366h1v1h-1zM628 365h1v1h-1zM629 364h1v1h-1zM630 363h1v1h-1zM631 362h1v1h-1zM631 361h1v1h-1zM632 360h1v1h-1zM633 359h1v1h-1zM634 358h1v1h-1zM635 357h1v1h-1zM635 356h1v1h-1zM636 355h1v1h-1zM637 354h1v1h-1zM637 353h1v1h-1zM638 352h1v1h-1zM638 351h1v1h-1zM638 350h1v1h-1zM639 349h1v1h-1zM639 348h1v1h-1zM639 347h1v1h-1zM640 346h1v1h-1zM640 345h1v1h-1zM640 344h1v1h-1zM641 343h1v1h-1zM641 342h1v1h-1zM642 341h1v1h-1zM642 340h1v1h-1zM642 339h1v1h-1zM643 338h1v1h-1zM643 337h1v1h-1zM643 336h1v1h-1zM644 335h1v1h-1zM644 334h1v1h-1zM644 333h1v1h-1zM645 332h1v1h-1zM645 331h1v1h-1zM645 330h1v1h-1zM645 329h1v1h-1zM646 328h1v1h-1zM646 327h1v1h-1zM646 326h1v1h-1zM646 325h1v1h-1zM647 324h1v1h-1zM647 323h1v1h-1zM647 322h1v1h-1zM647 321h1v1h-1zM647 320h1v1h-1zM648 319h1v1h-1zM648 318h1v1h-1zM648 317h1v1h-1zM648 316h1v1h-1zM649 315h1v1h-1zM649 314h1v1h-1zM649 313h1v1h-1zM649 312h1v1h-1zM649 311h1v1h-1zM650 310h1v1h-1zM650 309h1v1h-1zM650 308h1v1h-1zM650 307h1v1h-1zM651 306h1v1h-1zM651 305h1v1h-1zM651 304h1v1h-1zM651 303h1v1h-1zM651 302h1v1h-1zM652 301h1v1h-1zM652 300h1v1h-1zM652 299h1v1h-1zM652 298h1v1h-1zM653 297h1v1h-1zM653 296h1v1h-1zM653 295h1v1h-1zM653 294h1v1h-1zM654 293h1v1h-1zM654 292h1v1h-1zM654 291h1v1h-1zM655 290h1v1h-1zM655 289h1v1h-1zM655 288h1v1h-1zM656 287h1v1h-1zM656 286h1v1h-1zM656 285h1v1h-1zM657 284h1v1h-1zM657 283h1v1h-1zM657 282h1v1h-1zM657 281h1v1h-1zM658 280h1v1h-1zM658 279h1v1h-1zM658 278h1v1h-1zM659 277h1v1h-1zM659 276h1v1h-1zM659 275h1v1h-1zM660 274h1v1h-1zM660 273h1v1h-1zM660 272h1v1h-1zM661 271h1v1h-1zM661 270h1v1h-1zM661 269h1v1h-1zM662 268h1v1h-1zM662 267h1v1h-1zM662 266h1v1h-1zM663 265h1v1h-1zM663 264h1v1h-1zM663 263h1v1h-1zM664 262h1v1h-1zM664 261h1v1h-1zM664 260h1v1h-1zM665 259h1v1h-1zM665 258h1v1h-1zM665 257h1v1h-1zM666 256h1v1h-1zM666 255h1v1h-1zM666 254h1v1h-1zM667 253h1v1h-1zM667 252h1v1h-1zM667 251h1v1h-1zM668 250h1v1h-1zM668 249h1v1h-1zM668 248h1v1h-1zM669 247h1v1h-1zM669 246h1v1h-1zM670 245h1v1h-1zM670 244h1v1h-1zM671 243h1v1h-1zM671 242h1v1h-1zM672 241h1v1h-1zM672 240h1v1h-1zM673 239h1v1h-1zM674 238h1v1h-1zM674 237h1v1h-1zM675 236h1v1h-1zM675 235h1v1h-1zM676 234h1v1h-1zM676 233h1v1h-1zM677 232h1v1h-1zM678 231h1v1h-1zM679 230h1v1h-1zM680 229h1v1h-1zM681 228h2v1h-2zM683 227h1v1h-1zM684 226h1v1h-1zM685 225h1v1h-1zM686 224h1v1h-1zM687 223h1v1h-1zM688 222h1v1h-1zM689 221h1v1h-1zM689 220h1v1h-1zM690 219h1v1h-1zM691 218h1v1h-1zM692 217h1v1h-1zM693 216h1v1h-1zM694 217h1v1h-1zM694 218h1v1h-1zM695 219h1v1h-1zM696 220h1v1h-1zM696 221h1v1h-1zM697 222h1v1h-1zM698 223h1v1h-1zM698 224h1v1h-1zM699 225h1v1h-1zM700 226h1v1h-1zM700 227h1v1h-1zM701 228h1v1h-1zM701 229h1v1h-1zM702 230h1v1h-1zM702 231h1v1h-1zM703 232h1v1h-1zM703 233h1v1h-1zM703 234h1v1h-1zM704 235h1v1h-1zM704 236h1v1h-1zM704 237h1v1h-1zM705 238h1v1h-1zM705 239h1v1h-1zM706 240h1v1h-1zM706 241h1v1h-1zM706 242h1v1h-1zM707 243h1v1h-1zM707 244h1v1h-1zM707 245h1v1h-1zM708 246h1v1h-1zM708 247h1v1h-1zM709 248h1v1h-1zM709 249h1v1h-1zM710 250h1v1h-1zM710 251h1v1h-1zM711 252h1v1h-1zM711 253h1v1h-1zM712 254h1v1h-1zM712 255h1v1h-1zM713 256h1v1h-1zM713 257h1v1h-1zM714 258h1v1h-1zM714 259h1v1h-1zM715 260h1v1h-1zM715 261h1v1h-1zM716 262h1v1h-1zM716 263h1v1h-1zM717 264h1v1h-1zM717 265h1v1h-1zM717 266h1v1h-1zM718 267h1v1h-1zM718 268h1v1h-1zM719 269h1v1h-1zM719 270h1v1h-1zM719 271h1v1h-1zM720 272h1v1h-1zM720 273h1v1h-1zM721 274h1v1h-1zM721 275h1v1h-1zM721 276h1v1h-1zM722 277h1v1h-1zM722 278h1v1h-1zM723 279h1v1h-1zM723 280h1v1h-1zM723 281h1v1h-1zM724 282h1v1h-1zM724 283h1v1h-1zM725 284h1v1h-1zM725 285h1v1h-1zM726 286h1v1h-1zM726 287h1v1h-1zM727 288h1v1h-1zM727 289h1v1h-1zM728 290h1v1h-1zM728 291h1v1h-1zM729 292h1v1h-1zM729 293h1v1h-1zM730 294h1v1h-1zM730 295h1v1h-1zM731 296h1v1h-1zM731 297h1v1h-1zM732 298h1v1h-1zM732 299h1v1h-1zM733 300h1v1h-1zM733 301h9v1h-9zM742 300h1v1h-1zM742 299h1v1h-1zM743 298h1v1h-1zM743 297h1v1h-1zM744 296h1v1h-1zM744 295h1v1h-1zM745 294h1v1h-1zM745 293h1v1h-1zM746 292h1v1h-1zM746 291h1v1h-1zM747 290h1v1h-1zM747 289h1v1h-1zM748 288h1v1h-1zM748 287h1v1h-1zM749 286h1v1h-1zM749 285h1v1h-1zM750 284h1v1h-1zM750 283h1v1h-1zM750 282h1v1h-1zM750 281h1v1h-1zM751 280h1v1h-1zM751 279h1v1h-1zM751 278h1v1h-1zM751 277h1v1h-1zM752 276h1v1h-1zM752 275h1v1h-1zM752 274h1v1h-1zM752 273h1v1h-1zM753 272h1v1h-1zM753 271h1v1h-1zM753 270h1v1h-1zM754 269h1v1h-1zM754 268h1v1h-1zM754 267h1v1h-1zM754 266h1v1h-1zM755 265h1v1h-1zM755 264h1v1h-1zM755 263h1v1h-1zM755 262h1v1h-1zM756 261h1v1h-1zM756 260h1v1h-1zM756 259h1v1h-1zM756 258h1v1h-1zM757 257h1v1h-1zM757 256h1v1h-1zM757 255h1v1h-1zM758 254h1v1h-1zM758 253h1v1h-1zM758 252h1v1h-1zM758 251h1v1h-1zM759 250h1v1h-1zM759 249h1v1h-1zM759 248h1v1h-1zM759 247h1v1h-1zM760 246h1v1h-1zM760 245h1v1h-1zM760 244h1v1h-1zM760 243h1v1h-1zM761 242h1v1h-1zM761 241h1v1h-1zM761 240h1v1h-1zM761 239h1v1h-1zM762 238h1v1h-1zM762 237h1v1h-1zM762 236h1v1h-1zM762 235h1v1h-1zM763 234h1v1h-1zM763 233h1v1h-1zM763 232h1v1h-1zM763 231h1v1h-1zM764 230h1v1h-1zM764 229h1v1h-1zM764 228h1v1h-1zM764 227h1v1h-1zM765 226h1v1h-1zM765 225h1v1h-1zM765 224h1v1h-1zM766 223h1v1h-1zM766 222h1v1h-1zM766 221h1v1h-1zM767 220h1v1h-1zM767 219h1v1h-1zM767 218h1v1h-1zM768 217h1v1h-1zM768 216h1v1h-1zM768 215h1v1h-1zM769 214h1v1h-1zM769 213h1v1h-1zM769 212h1v1h-1zM769 211h1v1h-1zM770 210h1v1h-1zM770 209h1v1h-1zM770 208h1v1h-1zM771 207h1v1h-1zM771 206h1v1h-1zM771 205h1v1h-1zM772 204h1v1h-1zM772 203h1v1h-1zM772 202h1v1h-1zM773 201h1v1h-1zM773 200h1v1h-1zM773 199h1v1h-1zM774 198h1v1h-1zM774 197h1v1h-1zM774 196h1v1h-1zM774 195h1v1h-1zM775 194h1v1h-1zM775 193h1v1h-1zM775 192h1v1h-1zM775 191h1v1h-1zM776 190h1v1h-1zM776 189h1v1h-1zM776 188h1v1h-1zM777 187h1v1h-1zM777 186h1v1h-1zM777 185h1v1h-1zM777 184h1v1h-1zM778 183h1v1h-1zM778 182h1v1h-1zM778 181h1v1h-1zM779 180h1v1h-1zM779 179h1v1h-1zM779 178h1v1h-1zM779 177h1v1h-1zM780 176h1v1h-1zM780 175h1v1h-1zM780 174h1v1h-1zM780 173h1v1h-1zM781 172h1v1h-1zM781 171h1v1h-1zM781 170h1v1h-1zM782 169h1v1h-1zM782 168h1v1h-1zM782 167h1v1h-1zM783 166h1v1h-1zM783 165h1v1h-1zM783 164h1v1h-1zM784 163h1v1h-1zM784 162h1v1h-1zM784 161h1v1h-1zM785 160h1v1h-1zM785 159h1v1h-1zM786 158h1v1h-1zM786 157h1v1h-1zM786 156h1v1h-1zM787 155h1v1h-1zM787 154h1v1h-1zM787 153h1v1h-1zM788 152h1v1h-1zM788 151h1v1h-1zM788 150h1v1h-1zM789 149h1v1h-1zM789 148h1v1h-1zM790 147h1v1h-1zM790 146h1v1h-1zM791 145h1v1h-1zM791 144h1v1h-1zM792 143h1v1h-1zM792 142h1v1h-1zM793 141h1v1h-1zM794 140h1v1h-1zM794 139h1v1h-1zM795 138h1v1h-1zM795 137h1v1h-1zM796 136h1v1h-1zM796 135h1v1h-1zM797 134h4v1h-4zM801 135h5v1h-5zM805 136h1v1h-1zM806 137h1v1h-1zM806 138h1v1h-1zM807 139h1v1h-1zM807 140h1v1h-1zM808 141h1v1h-1zM808 142h1v1h-1zM809 143h1v1h-1zM809 144h1v1h-1zM810 145h1v1h-1zM810 146h1v1h-1zM811 147h1v1h-1zM811 148h1v1h-1zM812 149h1v1h-1zM812 150h1v1h-1zM813 151h1v1h-1zM813 152h1v1h-1zM813 153h1v1h-1zM814 154h1v1h-1zM814 155h1v1h-1zM815 156h1v1h-1zM815 157h1v1h-1zM816 158h1v1h-1zM816 159h1v1h-1zM817 160h1v1h-1zM817 161h1v1h-1zM817 162h1v1h-1zM818 163h1v1h-1zM818 164h1v1h-1zM819 165h1v1h-1zM819 166h1v1h-1zM820 167h1v1h-1zM820 168h1v1h-1zM821 169h1v1h-1zM821 170h1v1h-1zM822 171h1v1h-1zM822 172h1v1h-1zM823 173h1v1h-1zM823 174h1v1h-1zM824 175h1v1h-1zM824 176h1v1h-1zM825 177h1v1h-1zM826 178h1v1h-1zM826 179h1v1h-1zM827 180h1v1h-1zM827 181h1v1h-1zM828 182h1v1h-1zM828 183h1v1h-1zM829 184h1v1h-1zM830 185h1v1h-1zM830 186h1v1h-1zM831 187h1v1h-1zM831 188h1v1h-1zM832 189h1v1h-1zM832 190h1v1h-1zM833 191h1v1h-1zM833 192h1v1h-1zM834 193h1v1h-1zM834 194h1v1h-1zM835 195h1v1h-1zM835 196h1v1h-1zM836 197h1v1h-1zM836 198h1v1h-1zM837 199h1v1h-1zM837 200h1v1h-1zM838 201h1v1h-1zM838 202h1v1h-1zM838 203h1v1h-1zM839 204h1v1h-1zM839 205h1v1h-1zM839 206h1v1h-1zM840 207h1v1h-1zM840 208h1v1h-1zM840 209h1v1h-1zM841 210h1v1h-1zM841 211h1v1h-1zM841 212h1v1h-1zM841 213h1v1h-1zM842 214h1v1h-1zM842 215h1v1h-1zM842 216h1v1h-1zM843 217h1v1h-1zM843 218h1v1h-1zM843 219h1v1h-1zM844 220h1v1h-1zM844 221h1v1h-1zM844 222h1v1h-1zM845 223h1v1h-1zM845 224h1v1h-1zM845 225h1v1h-1zM846 226h1v1h-1zM846 227h1v1h-1zM846 228h1v1h-1zM847 229h1v1h-1zM847 230h1v1h-1zM847 231h1v1h-1zM848 232h1v1h-1zM848 233h1v1h-1zM848 234h1v1h-1zM849 235h1v1h-1zM849 236h1v1h-1zM849 237h1v1h-1zM849 238h1v1h-1zM850 239h1v1h-1zM850 240h1v1h-1zM850 241h1v1h-1zM851 242h1v1h-1zM851 243h1v1h-1zM851 244h1v1h-1zM852 245h1v1h-1zM852 246h1v1h-1zM852 247h1v1h-1zM853 248h1v1h-1zM853 249h1v1h-1zM853 250h1v1h-1zM854 251h1v1h-1zM854 252h1v1h-1zM854 253h1v1h-1zM855 254h1v1h-1zM855 255h1v1h-1zM855 256h1v1h-1zM856 257h1v1h-1zM856 258h1v1h-1zM856 259h1v1h-1zM857 260h1v1h-1zM857 261h1v1h-1zM857 262h1v1h-1zM857 263h1v1h-1zM858 264h1v1h-1zM858 265h1v1h-1zM858 266h1v1h-1zM859 267h1v1h-1zM859 268h1v1h-1zM859 269h1v1h-1zM860 270h1v1h-1zM860 271h1v1h-1zM860 272h1v1h-1zM861 273h1v1h-1zM861 274h1v1h-1zM862 275h1v1h-1zM862 276h1v1h-1zM863 277h1v1h-1zM863 278h1v1h-1zM864 279h1v1h-1zM864 280h1v1h-1zM865 281h1v1h-1zM866 282h1v1h-1zM866 283h1v1h-1zM867 284h1v1h-1zM867 285h1v1h-1zM868 286h1v1h-1zM868 287h1v1h-1zM869 288h1v1h-1zM870 289h2v1h-2zM872 290h1v1h-1zM873 291h2v1h-2zM875 292h2v1h-2zM877 293h1v1h-1zM878 294h1v1h-1zM879 295h1v1h-1zM880 296h1v1h-1zM881 297h2v1h-2zM883 298h1v1h-1zM884 299h1v1h-1zM885 300h2v1h-2zM887 301h4v1h-4zM891 302h3v1h-3zM894 301h1v1h-1zM895 300h1v1h-1zM896 299h1v1h-1zM897 298h1v1h-1zM898 297h1v1h-1zM899 296h1v1h-1zM900 295h1v1h-1zM901 294h1v1h-1zM902 293h2v1h-2zM904 292h1v1h-1zM905 291h2v1h-2zM907 290h2v1h-2zM909 289h9v1h-9zM918 288h2v1h-2zM920 287h2v1h-2zM922 286h2v1h-2zM924 285h10v1h-10zM934 286h2v1h-2zM936 287h1v1h-1zM937 288h2v1h-2zM939 289h2v1h-2zM941 290h1v1h-1zM942 291h1v1h-1zM943 292h1v1h-1zM944 293h1v1h-1zM945 294h1v1h-1zM945 295h1v1h-1zM946 296h1v1h-1zM947 297h1v1h-1zM948 298h1v1h-1zM949 299h1v1h-1zM950 300h1v1h-1zM950 301h1v1h-1zM951 302h1v1h-1zM952 303h1v1h-1zM953 304h1v1h-1zM953 305h1v1h-1zM954 306h1v1h-1zM955 307h1v1h-1zM956 308h1v1h-1zM956 309h1v1h-1zM957 310h1v1h-1zM957 311h1v1h-1zM958 312h1v1h-1zM958 313h1v1h-1zM959 314h1v1h-1zM959 315h1v1h-1zM960 316h1v1h-1zM960 317h1v1h-1zM960 318h1v1h-1zM961 319h1v1h-1zM961 320h1v1h-1zM962 321h1v1h-1zM962 322h1v1h-1zM962 323h1v1h-1zM963 324h1v1h-1zM963 325h1v1h-1zM964 326h1v1h-1zM964 327h1v1h-1zM965 328h1v1h-1zM965 329h1v1h-1zM966 330h1v1h-1zM966 331h1v1h-1zM967 332h1v1h-1zM968 333h1v1h-1zM969 334h1v1h-1zM969 335h1v1h-1zM970 336h1v1h-1zM971 337h1v1h-1zM972 338h1v1h-1zM972 339h1v1h-1zM973 340h1v1h-1zM974 341h1v1h-1zM974 342h1v1h-1zM975 343h1v1h-1zM975 344h1v1h-1zM976 345h1v1h-1zM976 346h1v1h-1zM977 347h1v1h-1zM978 348h1v1h-1zM978 349h1v1h-1zM979 350h1v1h-1zM979 351h1v1h-1zM980 352h1v1h-1zM980 353h1v1h-1zM981 354h1v1h-1zM981 355h1v1h-1zM982 356h1v1h-1zM982 357h1v1h-1zM982 358h1v1h-1zM983 359h1v1h-1zM983 360h1v1h-1zM983 361h1v1h-1zM984 362h1v1h-1zM984 363h1v1h-1zM984 364h1v1h-1zM985 365h1v1h-1zM985 366h1v1h-1zM986 367h1v1h-1zM986 368h1v1h-1zM986 369h1v1h-1zM987 370h1v1h-1zM987 371h1v1h-1zM987 372h1v1h-1zM988 373h1v1h-1zM988 374h1v1h-1zM988 375h1v1h-1zM989 376h1v1h-1zM989 377h1v1h-1zM990 378h1v1h-1zM990 379h1v1h-1zM991 380h1v1h-1zM991 381h1v1h-1zM992 382h1v1h-1zM992 383h1v1h-1zM993 384h1v1h-1zM993 385h1v1h-1zM994 386h1v1h-1zM994 387h1v1h-1zM995 388h1v1h-1zM995 389h1v1h-1zM996 390h1v1h-1zM996 391h1v1h-1zM997 392h1v1h-1zM998 393h1v1h-1zM998 394h1v1h-1zM999 395h1v1h-1zM999 396h1v1h-1zM1000 397h1v1h-1zM1001 398h1v1h-1zM1001 399h1v1h-1zM1002 400h1v1h-1zM1003 401h1v1h-1zM1003 402h1v1h-1zM1004 403h1v1h-1zM1004 404h1v1h-1zM1005 405h1v1h-1zM1006 406h1v1h-1zM1007 407h1v1h-1zM1008 408h1v1h-1zM1009 409h1v1h-1zM1010 410h1v1h-1zM1011 411h1v1h-1zM1012 412h1v1h-1zM1013 413h1v1h-1zM1014 414h1v1h-1zM1014 415h1v1h-1zM1015 416h1v1h-1zM1015 417h1v1h-1zM1016 418h1v1h-1zM1017 419h1v1h-1zM1017 420h1v1h-1zM1018 421h1v1h-1zM1019 422h1v1h-1zM1019 423h1v1h-1zM1020 424h1v1h-1zM1020 425h1v1h-1zM1021 426h1v1h-1zM1022 427h1v1h-1zM1022 428h1v1h-1zM1023 429h1v1h-1zM1024 430h1v1h-1zM1025 431h1v1h-1zM1025 432h1v1h-1zM1026 433h1v1h-1zM1027 434h1v1h-1zM1028 435h1v1h-1zM1028 436h1v1h-1zM1029 437h1v1h-1zM1030 438h1v1h-1zM1031 439h2v1h-2zM1033 440h1v1h-1zM1034 441h1v1h-1zM1035 442h2v1h-2zM1037 443h2v1h-2zM1039 444h2v1h-2zM1041 445h3v1h-3zM1044 446h2v1h-2zM1045 445h1v1h-1zM1046 444h1v1h-1zM1046 443h1v1h-1zM1047 442h1v1h-1zM1047 441h1v1h-1zM1048 440h1v1h-1zM1048 439h1v1h-1zM1048 438h1v1h-1zM1049 437h1v1h-1zM1049 436h1v1h-1zM1050 435h1v1h-1zM1050 434h1v1h-1zM1050 433h1v1h-1zM1051 432h1v1h-1zM1051 431h1v1h-1zM1052 430h1v1h-1zM1052 429h1v1h-1zM1053 428h1v1h-1zM1053 427h1v1h-1zM1054 426h1v1h-1zM1054 425h1v1h-1zM1055 424h1v1h-1zM1056 423h1v1h-1zM1057 422h1v1h-1zM1057 421h1v1h-1zM1058 420h1v1h-1zM1059 419h1v1h-1zM1060 418h1v1h-1zM1060 417h1v1h-1zM1061 416h1v1h-1zM1062 415h1v1h-1zM1063 414h1v1h-1zM1064 413h1v1h-1zM1065 412h1v1h-1zM1066 411h1v1h-1zM1067 410h1v1h-1zM1068 409h1v1h-1zM1069 408h1v1h-1zM1069 407h1v1h-1zM1070 406h1v1h-1zM1070 405h1v1h-1zM1071 404h1v1h-1zM1071 403h1v1h-1zM1072 402h1v1h-1zM1072 401h1v1h-1zM1072 400h1v1h-1zM1073 399h1v1h-1zM1073 398h1v1h-1zM1074 397h1v1h-1zM1074 396h1v1h-1zM1074 395h1v1h-1zM1075 394h1v1h-1zM1075 393h1v1h-1zM1076 392h1v1h-1zM1076 391h1v1h-1zM1077 390h1v1h-1zM1077 389h1v1h-1zM1077 388h1v1h-1zM1078 387h1v1h-1zM1078 386h1v1h-1zM1078 385h1v1h-1zM1079 384h1v1h-1zM1079 383h1v1h-1zM1080 382h1v1h-1zM1080 381h1v1h-1zM1080 380h1v1h-1zM1081 379h1v1h-1zM1081 378h1v1h-1zM1081 377h1v1h-1zM1082 376h1v1h-1zM1082 375h1v1h-1zM1082 374h1v1h-1zM1083 373h1v1h-1zM1083 372h1v1h-1zM1084 371h1v1h-1zM1084 370h1v1h-1zM1084 369h1v1h-1zM1085 368h1v1h-1zM1085 367h1v1h-1zM1086 366h1v1h-1zM1086 365h1v1h-1zM1087 364h1v1h-1zM1087 363h1v1h-1zM1088 362h1v1h-1zM1088 361h1v1h-1zM1089 360h1v1h-1zM1089 359h1v1h-1zM1090 358h1v1h-1zM1090 357h1v1h-1zM1091 356h1v1h-1zM1091 355h1v1h-1zM1092 354h1v1h-1zM1092 353h1v1h-1zM1093 352h1v1h-1zM1093 351h1v1h-1zM1093 350h1v1h-1zM1094 349h1v1h-1zM1094 348h1v1h-1zM1095 347h1v1h-1zM1095 346h1v1h-1zM1096 345h1v1h-1zM1096 344h1v1h-1zM1096 343h1v1h-1zM1097 342h1v1h-1zM1097 341h1v1h-1zM1098 340h1v1h-1zM1098 339h1v1h-1zM1098 338h1v1h-1zM1099 337h1v1h-1zM1099 336h1v1h-1zM1100 335h1v1h-1zM1100 334h1v1h-1zM1101 333h1v1h-1zM1101 332h1v1h-1zM1102 333h1v1h-1zM1102 334h1v1h-1zM1103 335h1v1h-1zM1104 336h1v1h-1zM1105 337h1v1h-1zM1105 338h1v1h-1zM1106 339h1v1h-1zM1107 340h1v1h-1zM1108 341h1v1h-1zM1108 342h1v1h-1zM1109 343h1v1h-1zM1110 344h1v1h-1zM1111 345h2v1h-2zM1113 346h1v1h-1zM1114 347h1v1h-1zM1115 348h2v1h-2zM1117 349h1v1h-1z" fill="#0000cd"/>
<defs><clipPath id="mainclip"><rect x="5" y="24" width="1415" height="538"/></clipPath></defs>
<rect x="4" y="104" width="1417" height="3" fill="#ff0000"/>
<rect x="4" y="241" width="1417" height="3" fill="#ff0000"/>
<rect x="4" y="353" width="1417" height="3" fill="#00ff00"/>
<rect x="4" y="351" width="7" height="7" fill="#00ff00"/>
<rect x="7" y="354" width="1" height="1" fill="#fff"/>
<rect x="1414" y="351" width="7" height="7" fill="#00ff00"/>
<rect x="1417" y="354" width="1" height="1" fill="#fff"/>
<rect x="4" y="460" width="1417" height="3" fill="#0000ff"/>
<rect x="4" y="458" width="7" height="7" fill="#0000ff"/>
<rect x="7" y="461" width="1" height="1" fill="#fff"/>
<rect x="1414" y="458" width="7" height="7" fill="#0000ff"/>
<rect x="1417" y="461" width="1" height="1" fill="#fff"/>
<rect x="4" y="555" width="1417" height="3" fill="#0000ff"/>
<polygon points="8,34 15,34 11.5,30" fill="#000"/>
<text x="20.1" y="35" font-size="10" fill="#000" textLength="66.8" lengthAdjust="spacingAndGlyphs" stroke="#000" stroke-width="0.22" text-rendering="geometricPrecision">EURUSD-,Daily</text>
<text x="93.0" y="35" font-size="10" fill="#000" textLength="140.6" lengthAdjust="spacingAndGlyphs" stroke="#000" stroke-width="0.22" text-rendering="geometricPrecision">1.11758 1.11789 1.11710 1.11717</text>
<polygon points="1131,24 1140,24 1135.5,29" fill="#c0c0c0"/>
<rect x="1421" y="31" width="3" height="1" fill="#000"/>
<text x="1426.1" y="35" font-size="10" fill="#000" textLength="32.6" lengthAdjust="spacingAndGlyphs" stroke="#000" stroke-width="0.22" text-rendering="geometricPrecision">1.14635</text>
<rect x="1421" y="64" width="3" height="1" fill="#000"/>
<text x="1426.1" y="68" font-size="10" fill="#000" textLength="32.6" lengthAdjust="spacingAndGlyphs" stroke="#000" stroke-width="0.22" text-rendering="geometricPrecision">1.14355</text>
<rect x="1421" y="97" width="3" height="1" fill="#000"/>
<text x="1426.1" y="101" font-size="10" fill="#000" textLength="32.6" lengthAdjust="spacingAndGlyphs" stroke="#000" stroke-width="0.22" text-rendering="geometricPrecision">1.14075</text>
<rect x="1421" y="130" width="3" height="1" fill="#000"/>
<text x="1426.1" y="134" font-size="10" fill="#000" textLength="32.6" lengthAdjust="spacingAndGlyphs" stroke="#000" stroke-width="0.22" text-rendering="geometricPrecision">1.13795</text>
<rect x="1421" y="163" width="3" height="1" fill="#000"/>
<text x="1426.1" y="167" font-size="10" fill="#000" textLength="32.6" lengthAdjust="spacingAndGlyphs" stroke="#000" stroke-width="0.22" text-rendering="geometricPrecision">1.13515</text>
<rect x="1421" y="197" width="3" height="1" fill="#000"/>
<text x="1426.1" y="201" font-size="10" fill="#000" textLength="32.6" lengthAdjust="spacingAndGlyphs" stroke="#000" stroke-width="0.22" text-rendering="geometricPrecision">1.13240</text>
<rect x="1421" y="229" width="3" height="1" fill="#000"/>
<text x="1426.1" y="233" font-size="10" fill="#000" textLength="32.6" lengthAdjust="spacingAndGlyphs" stroke="#000" stroke-width="0.22" text-rendering="geometricPrecision">1.12960</text>
<rect x="1421" y="262" width="3" height="1" fill="#000"/>
<text x="1426.1" y="266" font-size="10" fill="#000" textLength="32.6" lengthAdjust="spacingAndGlyphs" stroke="#000" stroke-width="0.22" text-rendering="geometricPrecision">1.12680</text>
<rect x="1421" y="295" width="3" height="1" fill="#000"/>
<text x="1426.1" y="299" font-size="10" fill="#000" textLength="32.6" lengthAdjust="spacingAndGlyphs" stroke="#000" stroke-width="0.22" text-rendering="geometricPrecision">1.12400</text>
<rect x="1421" y="328" width="3" height="1" fill="#000"/>
<text x="1426.1" y="332" font-size="10" fill="#000" textLength="32.6" lengthAdjust="spacingAndGlyphs" stroke="#000" stroke-width="0.22" text-rendering="geometricPrecision">1.12120</text>
<rect x="1421" y="361" width="3" height="1" fill="#000"/>
<text x="1426.1" y="365" font-size="10" fill="#000" textLength="32.6" lengthAdjust="spacingAndGlyphs" stroke="#000" stroke-width="0.22" text-rendering="geometricPrecision">1.11845</text>
<rect x="1421" y="394" width="3" height="1" fill="#000"/>
<text x="1426.1" y="398" font-size="10" fill="#000" textLength="32.6" lengthAdjust="spacingAndGlyphs" stroke="#000" stroke-width="0.22" text-rendering="geometricPrecision">1.11565</text>
<rect x="1421" y="428" width="3" height="1" fill="#000"/>
<text x="1426.1" y="432" font-size="10" fill="#000" textLength="32.6" lengthAdjust="spacingAndGlyphs" stroke="#000" stroke-width="0.22" text-rendering="geometricPrecision">1.11285</text>
<rect x="1421" y="461" width="3" height="1" fill="#000"/>
<text x="1426.1" y="465" font-size="10" fill="#000" textLength="32.6" lengthAdjust="spacingAndGlyphs" stroke="#000" stroke-width="0.22" text-rendering="geometricPrecision">1.11005</text>
<rect x="1421" y="494" width="3" height="1" fill="#000"/>
<text x="1426.1" y="498" font-size="10" fill="#000" textLength="32.6" lengthAdjust="spacingAndGlyphs" stroke="#000" stroke-width="0.22" text-rendering="geometricPrecision">1.10725</text>
<rect x="1421" y="527" width="3" height="1" fill="#000"/>
<text x="1426.1" y="531" font-size="10" fill="#000" textLength="32.6" lengthAdjust="spacingAndGlyphs" stroke="#000" stroke-width="0.22" text-rendering="geometricPrecision">1.10450</text>
<rect x="1421" y="560" width="3" height="1" fill="#000"/>
<text x="1426.1" y="564" font-size="10" fill="#000" textLength="32.6" lengthAdjust="spacingAndGlyphs" stroke="#000" stroke-width="0.22" text-rendering="geometricPrecision">1.10170</text>
<rect x="1422" y="99" width="41" height="11" fill="#ff0000"/>
<text x="1426.1" y="108" font-size="10" fill="#fff" textLength="32.6" lengthAdjust="spacingAndGlyphs" stroke="#fff" stroke-width="0.15" text-rendering="geometricPrecision">1.14009</text>
<rect x="1422" y="236" width="41" height="11" fill="#ff0000"/>
<text x="1426.1" y="245" font-size="10" fill="#fff" textLength="32.6" lengthAdjust="spacingAndGlyphs" stroke="#fff" stroke-width="0.15" text-rendering="geometricPrecision">1.12851</text>
<rect x="1422" y="348" width="41" height="11" fill="#00ff00"/>
<text x="1426.1" y="357" font-size="10" fill="#fff" textLength="32.6" lengthAdjust="spacingAndGlyphs" stroke="#fff" stroke-width="0.15" text-rendering="geometricPrecision">1.11901</text>
<rect x="1422" y="455" width="41" height="11" fill="#0000ff"/>
<text x="1426.1" y="464" font-size="10" fill="#fff" textLength="32.6" lengthAdjust="spacingAndGlyphs" stroke="#fff" stroke-width="0.15" text-rendering="geometricPrecision">1.11000</text>
<rect x="1422" y="550" width="41" height="11" fill="#0000ff"/>
<text x="1426.1" y="559" font-size="10" fill="#fff" textLength="32.6" lengthAdjust="spacingAndGlyphs" stroke="#fff" stroke-width="0.15" text-rendering="geometricPrecision">1.10201</text>
<rect x="1422" y="371" width="41" height="11" fill="#000"/>
<text x="1426.1" y="380" font-size="10" fill="#fff" textLength="32.6" lengthAdjust="spacingAndGlyphs" stroke="#fff" stroke-width="0.15" text-rendering="geometricPrecision">1.11717</text>
<defs>
<linearGradient id="gbtn" x1="0" y1="0" x2="0" y2="1"><stop offset="0" stop-color="#5c5cff"/><stop offset="1" stop-color="#3a3ae6"/></linearGradient>
<linearGradient id="glow" x1="0" y1="0" x2="0" y2="1"><stop offset="0" stop-color="#3636e2"/><stop offset="1" stop-color="#0000ac"/></linearGradient>
<linearGradient id="gspin" x1="0" y1="0" x2="0" y2="1"><stop offset="0" stop-color="#f2f2f2"/><stop offset="0.33" stop-color="#ececec"/><stop offset="0.34" stop-color="#dadada"/><stop offset="1" stop-color="#d2d2d2"/></linearGradient>
<linearGradient id="gtri" x1="0" y1="0" x2="0" y2="1"><stop offset="0" stop-color="#6f8ff0"/><stop offset="1" stop-color="#2c3c9c"/></linearGradient>
</defs>
<rect x="6" y="41" width="223" height="68" fill="#fff"/>
<path d="M8,43 H60 V67 H117 V107 H8 Z" fill="#00009c"/>
<rect x="9" y="44" width="50" height="23" fill="url(#gbtn)"/>
<rect x="9" y="68" width="107" height="38" fill="url(#glow)"/>
<rect x="9" y="66" width="50" height="2" fill="#3a3ae6"/>
<rect x="12" y="66" width="44" height="1" fill="#00008c"/>
<rect x="12" y="67" width="44" height="1" fill="#6a6aff"/>
<path d="M175,43 H227 V107 H119 V67 H175 Z" fill="#00009c"/>
<rect x="176" y="44" width="50" height="23" fill="url(#gbtn)"/>
<rect x="120" y="68" width="106" height="38" fill="url(#glow)"/>
<rect x="176" y="66" width="50" height="2" fill="#3a3ae6"/>
<rect x="179" y="66" width="44" height="1" fill="#00008c"/>
<rect x="179" y="67" width="44" height="1" fill="#6a6aff"/>
<rect x="62" y="43" width="111" height="22" fill="#a9a9a9"/>
<rect x="63" y="44" width="109" height="20" fill="#fff"/>
<rect x="64" y="45" width="18" height="18" fill="url(#gspin)"/>
<rect x="83" y="44" width="1" height="20" fill="#a9a9a9"/>
<rect x="151" y="44" width="1" height="20" fill="#a9a9a9"/>
<rect x="152" y="45" width="20" height="18" fill="url(#gspin)"/>
<polygon points="70,52 75.5,52 72.75,55.5" fill="url(#gtri)"/>
<polygon points="158.8,55.5 164.5,55.5 161.65,52" fill="url(#gtri)"/>
<text x="147.6" y="57.9" font-size="12.4" fill="#000" text-anchor="end">1.00</text>
<text x="20.6" y="59.1" font-size="12.6" fill="#fff" textLength="25.3" lengthAdjust="spacingAndGlyphs">SELL</text>
<text x="188.9" y="58.8" font-size="12.6" fill="#fff" textLength="23.1" lengthAdjust="spacingAndGlyphs">BUY</text>
<text x="28.4" y="98.3" font-size="13" fill="#fff" textLength="23.6" lengthAdjust="spacingAndGlyphs" font-weight="bold">1.11</text>
<text x="55.0" y="98" font-size="35" fill="#fff" textLength="35.2" lengthAdjust="spacingAndGlyphs">71</text>
<text x="94.5" y="82" font-size="12.6" fill="#fff" font-weight="bold">7</text>
<text x="138.4" y="98.3" font-size="13" fill="#fff" textLength="23.6" lengthAdjust="spacingAndGlyphs" font-weight="bold">1.11</text>
<text x="166.2" y="98" font-size="35" fill="#fff" textLength="35.2" lengthAdjust="spacingAndGlyphs">73</text>
<text x="205.6" y="82" font-size="12.6" fill="#fff" font-weight="bold">4</text>
<rect x="5" y="614" width="1" height="3" fill="#c0c0c0"/>
<rect x="13" y="614" width="1" height="7" fill="#c0c0c0"/>
<rect x="21" y="614" width="1" height="9" fill="#c0c0c0"/>
<rect x="29" y="614" width="1" height="21" fill="#c0c0c0"/>
<rect x="37" y="614" width="1" height="26" fill="#c0c0c0"/>
<rect x="45" y="614" width="1" height="31" fill="#c0c0c0"/>
<rect x="53" y="614" width="1" height="32" fill="#c0c0c0"/>
<rect x="61" y="614" width="1" height="30" fill="#c0c0c0"/>
<rect x="69" y="614" width="1" height="24" fill="#c0c0c0"/>
<rect x="77" y="614" width="1" height="21" fill="#c0c0c0"/>
<rect x="85" y="614" width="1" height="18" fill="#c0c0c0"/>
<rect x="93" y="614" width="1" height="15" fill="#c0c0c0"/>
<rect x="101" y="614" width="1" height="11" fill="#c0c0c0"/>
<rect x="109" y="614" width="1" height="6" fill="#c0c0c0"/>
<rect x="117" y="610" width="1" height="5" fill="#c0c0c0"/>
<rect x="125" y="607" width="1" height="8" fill="#c0c0c0"/>
<rect x="133" y="612" width="1" height="3" fill="#c0c0c0"/>
<rect x="141" y="614" width="1" height="1" fill="#c0c0c0"/>
<rect x="149" y="614" width="1" height="2" fill="#c0c0c0"/>
<rect x="157" y="614" width="1" height="6" fill="#c0c0c0"/>
<rect x="165" y="614" width="1" height="12" fill="#c0c0c0"/>
<rect x="173" y="614" width="1" height="18" fill="#c0c0c0"/>
<rect x="181" y="614" width="1" height="23" fill="#c0c0c0"/>
<rect x="189" y="614" width="1" height="27" fill="#c0c0c0"/>
<rect x="197" y="614" width="1" height="31" fill="#c0c0c0"/>
<rect x="205" y="614" width="1" height="34" fill="#c0c0c0"/>
<rect x="213" y="614" width="1" height="32" fill="#c0c0c0"/>
<rect x="221" y="614" width="1" height="32" fill="#c0c0c0"/>
<rect x="229" y="614" width="1" height="33" fill="#c0c0c0"/>
<rect x="237" y="614" width="1" height="33" fill="#c0c0c0"/>
<rect x="245" y="614" width="1" height="29" fill="#c0c0c0"/>
<rect x="253" y="614" width="1" height="25" fill="#c0c0c0"/>
<rect x="261" y="614" width="1" height="20" fill="#c0c0c0"/>
<rect x="269" y="614" width="1" height="18" fill="#c0c0c0"/>
<rect x="277" y="614" width="1" height="13" fill="#c0c0c0"/>
<rect x="285" y="614" width="1" height="8" fill="#c0c0c0"/>
<rect x="293" y="614" width="1" height="4" fill="#c0c0c0"/>
<rect x="301" y="614" width="1" height="3" fill="#c0c0c0"/>
<rect x="309" y="614" width="1" height="1" fill="#c0c0c0"/>
<rect x="317" y="614" width="1" height="5" fill="#c0c0c0"/>
<rect x="325" y="614" width="1" height="7" fill="#c0c0c0"/>
<rect x="333" y="614" width="1" height="7" fill="#c0c0c0"/>
<rect x="341" y="614" width="1" height="10" fill="#c0c0c0"/>
<rect x="349" y="614" width="1" height="18" fill="#c0c0c0"/>
<rect x="357" y="614" width="1" height="26" fill="#c0c0c0"/>
<rect x="365" y="614" width="1" height="31" fill="#c0c0c0"/>
<rect x="373" y="614" width="1" height="34" fill="#c0c0c0"/>
<rect x="381" y="614" width="1" height="33" fill="#c0c0c0"/>
<rect x="389" y="614" width="1" height="30" fill="#c0c0c0"/>
<rect x="397" y="614" width="1" height="28" fill="#c0c0c0"/>
<rect x="405" y="614" width="1" height="28" fill="#c0c0c0"/>
<rect x="413" y="614" width="1" height="27" fill="#c0c0c0"/>
<rect x="421" y="614" width="1" height="26" fill="#c0c0c0"/>
<rect x="429" y="614" width="1" height="24" fill="#c0c0c0"/>
<rect x="437" y="614" width="1" height="23" fill="#c0c0c0"/>
<rect x="445" y="614" width="1" height="21" fill="#c0c0c0"/>
<rect x="453" y="614" width="1" height="18" fill="#c0c0c0"/>
<rect x="461" y="614" width="1" height="13" fill="#c0c0c0"/>
<rect x="469" y="614" width="1" height="10" fill="#c0c0c0"/>
<rect x="477" y="614" width="1" height="7" fill="#c0c0c0"/>
<rect x="485" y="614" width="1" height="8" fill="#c0c0c0"/>
<rect x="493" y="614" width="1" height="7" fill="#c0c0c0"/>
<rect x="501" y="614" width="1" height="10" fill="#c0c0c0"/>
<rect x="509" y="614" width="1" height="14" fill="#c0c0c0"/>
<rect x="517" y="614" width="1" height="15" fill="#c0c0c0"/>
<rect x="525" y="614" width="1" height="16" fill="#c0c0c0"/>
<rect x="533" y="614" width="1" height="18" fill="#c0c0c0"/>
<rect x="541" y="614" width="1" height="19" fill="#c0c0c0"/>
<rect x="549" y="614" width="1" height="17" fill="#c0c0c0"/>
<rect x="557" y="614" width="1" height="14" fill="#c0c0c0"/>
<rect x="565" y="614" width="1" height="11" fill="#c0c0c0"/>
<rect x="573" y="614" width="1" height="10" fill="#c0c0c0"/>
<rect x="581" y="614" width="1" height="11" fill="#c0c0c0"/>
<rect x="589" y="614" width="1" height="14" fill="#c0c0c0"/>
<rect x="597" y="614" width="1" height="18" fill="#c0c0c0"/>
<rect x="605" y="614" width="1" height="16" fill="#c0c0c0"/>
<rect x="613" y="614" width="1" height="15" fill="#c0c0c0"/>
<rect x="621" y="614" width="1" height="7" fill="#c0c0c0"/>
<rect x="629" y="614" width="1" height="1" fill="#c0c0c0"/>
<rect x="637" y="612" width="1" height="3" fill="#c0c0c0"/>
<rect x="645" y="606" width="1" height="9" fill="#c0c0c0"/>
<rect x="653" y="595" width="1" height="20" fill="#c0c0c0"/>
<rect x="661" y="589" width="1" height="26" fill="#c0c0c0"/>
<rect x="669" y="585" width="1" height="30" fill="#c0c0c0"/>
<rect x="677" y="580" width="1" height="35" fill="#c0c0c0"/>
<rect x="685" y="581" width="1" height="34" fill="#c0c0c0"/>
<rect x="693" y="583" width="1" height="32" fill="#c0c0c0"/>
<rect x="701" y="591" width="1" height="24" fill="#c0c0c0"/>
<rect x="709" y="596" width="1" height="19" fill="#c0c0c0"/>
<rect x="717" y="600" width="1" height="15" fill="#c0c0c0"/>
<rect x="725" y="606" width="1" height="9" fill="#c0c0c0"/>
<rect x="733" y="607" width="1" height="8" fill="#c0c0c0"/>
<rect x="741" y="603" width="1" height="12" fill="#c0c0c0"/>
<rect x="749" y="594" width="1" height="21" fill="#c0c0c0"/>
<rect x="757" y="585" width="1" height="30" fill="#c0c0c0"/>
<rect x="765" y="578" width="1" height="37" fill="#c0c0c0"/>
<rect x="773" y="575" width="1" height="40" fill="#c0c0c0"/>
<rect x="781" y="573" width="1" height="42" fill="#c0c0c0"/>
<rect x="789" y="572" width="1" height="43" fill="#c0c0c0"/>
<rect x="797" y="571" width="1" height="44" fill="#c0c0c0"/>
<rect x="805" y="572" width="1" height="43" fill="#c0c0c0"/>
<rect x="813" y="580" width="1" height="35" fill="#c0c0c0"/>
<rect x="821" y="586" width="1" height="29" fill="#c0c0c0"/>
<rect x="829" y="592" width="1" height="23" fill="#c0c0c0"/>
<rect x="837" y="596" width="1" height="19" fill="#c0c0c0"/>
<rect x="845" y="606" width="1" height="9" fill="#c0c0c0"/>
<rect x="853" y="613" width="1" height="2" fill="#c0c0c0"/>
<rect x="861" y="614" width="1" height="5" fill="#c0c0c0"/>
<rect x="869" y="614" width="1" height="11" fill="#c0c0c0"/>
<rect x="877" y="614" width="1" height="11" fill="#c0c0c0"/>
<rect x="885" y="614" width="1" height="12" fill="#c0c0c0"/>
<rect x="893" y="614" width="1" height="10" fill="#c0c0c0"/>
<rect x="901" y="614" width="1" height="9" fill="#c0c0c0"/>
<rect x="909" y="614" width="1" height="9" fill="#c0c0c0"/>
<rect x="917" y="614" width="1" height="13" fill="#c0c0c0"/>
<rect x="925" y="614" width="1" height="15" fill="#c0c0c0"/>
<rect x="933" y="614" width="1" height="13" fill="#c0c0c0"/>
<rect x="941" y="614" width="1" height="15" fill="#c0c0c0"/>
<rect x="949" y="614" width="1" height="16" fill="#c0c0c0"/>
<rect x="957" y="614" width="1" height="19" fill="#c0c0c0"/>
<rect x="965" y="614" width="1" height="25" fill="#c0c0c0"/>
<rect x="973" y="614" width="1" height="30" fill="#c0c0c0"/>
<rect x="981" y="614" width="1" height="34" fill="#c0c0c0"/>
<rect x="989" y="614" width="1" height="38" fill="#c0c0c0"/>
<rect x="997" y="614" width="1" height="40" fill="#c0c0c0"/>
<rect x="1005" y="614" width="1" height="41" fill="#c0c0c0"/>
<rect x="1013" y="614" width="1" height="39" fill="#c0c0c0"/>
<rect x="1021" y="614" width="1" height="45" fill="#c0c0c0"/>
<rect x="1029" y="614" width="1" height="48" fill="#c0c0c0"/>
<rect x="1037" y="614" width="1" height="48" fill="#c0c0c0"/>
<rect x="1045" y="614" width="1" height="47" fill="#c0c0c0"/>
<rect x="1053" y="614" width="1" height="34" fill="#c0c0c0"/>
<rect x="1061" y="614" width="1" height="27" fill="#c0c0c0"/>
<rect x="1069" y="614" width="1" height="21" fill="#c0c0c0"/>
<rect x="1077" y="614" width="1" height="18" fill="#c0c0c0"/>
<rect x="1085" y="614" width="1" height="14" fill="#c0c0c0"/>
<rect x="1093" y="614" width="1" height="10" fill="#c0c0c0"/>
<rect x="1101" y="614" width="1" height="6" fill="#c0c0c0"/>
<rect x="1109" y="614" width="1" height="6" fill="#c0c0c0"/>
<rect x="1117" y="614" width="1" height="7" fill="#c0c0c0"/>
<path d="M5 624h2v1h-2zM7 623h1v1h-1zM11 622h3v1h-3zM17 621h3v1h-3zM23 621h3v1h-3zM29 621h2v1h-2zM31 622h1v1h-1zM35 623h3v1h-3zM41 624h2v1h-2zM43 625h1v1h-1zM47 626h2v1h-2zM49 627h1v1h-1zM53 628h2v1h-2zM55 629h1v1h-1zM59 630h1v1h-1zM60 631h2v1h-2zM65 633h3v1h-3zM71 635h3v1h-3zM77 636h2v1h-2zM79 637h1v1h-1zM83 638h3v1h-3zM89 638h3v1h-3zM95 638h2v1h-2zM97 637h1v1h-1zM101 637h2v1h-2zM103 636h1v1h-1zM107 635h3v1h-3zM113 633h1v1h-1zM114 632h2v1h-2zM119 630h1v1h-1zM120 629h2v1h-2zM125 627h1v1h-1zM126 626h2v1h-2zM131 624h1v1h-1zM132 623h2v1h-2zM137 622h2v1h-2zM139 621h1v1h-1zM143 620h3v1h-3zM149 619h2v1h-2zM151 618h1v1h-1zM155 617h3v1h-3zM161 617h3v1h-3zM167 617h2v1h-2zM169 618h1v1h-1zM173 618h3v1h-3zM179 619h3v1h-3zM185 621h1v1h-1zM186 622h2v1h-2zM191 624h1v1h-1zM192 625h2v1h-2zM197 627h1v1h-1zM198 628h2v1h-2zM203 630h1v1h-1zM204 631h2v1h-2zM209 633h3v1h-3zM215 635h1v1h-1zM216 636h2v1h-2zM221 638h2v1h-2zM223 639h1v1h-1zM227 640h1v1h-1zM228 641h2v1h-2zM233 642h2v1h-2zM235 643h1v1h-1zM239 643h2v1h-2zM241 644h1v1h-1zM245 644h3v1h-3zM251 644h3v1h-3zM257 644h3v1h-3zM263 643h3v1h-3zM269 642h2v1h-2zM271 641h1v1h-1zM275 640h3v1h-3zM281 638h3v1h-3zM287 636h2v1h-2zM289 635h1v1h-1zM293 634h2v1h-2zM295 633h1v1h-1zM299 632h1v1h-1zM300 631h2v1h-2zM305 629h1v1h-1zM306 628h2v1h-2zM311 626h3v1h-3zM317 625h2v1h-2zM319 624h1v1h-1zM323 623h3v1h-3zM329 622h2v1h-2zM331 621h1v1h-1zM335 621h2v1h-2zM337 620h1v1h-1zM341 620h3v1h-3zM347 621h3v1h-3zM353 622h2v1h-2zM355 623h1v1h-1zM359 624h2v1h-2zM361 625h1v1h-1zM365 626h2v1h-2zM367 627h1v1h-1zM371 628h1v1h-1zM372 629h2v1h-2zM377 631h1v1h-1zM378 632h2v1h-2zM383 634h2v1h-2zM385 635h1v1h-1zM389 636h2v1h-2zM391 637h1v1h-1zM395 638h3v1h-3zM401 640h3v1h-3zM407 641h2v1h-2zM409 642h1v1h-1zM413 642h3v1h-3zM419 643h3v1h-3zM425 643h3v1h-3zM431 643h2v1h-2zM433 642h1v1h-1zM437 642h3v1h-3zM443 641h3v1h-3zM449 640h2v1h-2zM451 639h1v1h-1zM455 638h3v1h-3zM461 637h2v1h-2zM463 636h1v1h-1zM467 635h3v1h-3zM473 634h2v1h-2zM475 633h1v1h-1zM479 632h3v1h-3zM485 631h2v1h-2zM487 630h1v1h-1zM491 629h1v1h-1zM492 628h2v1h-2zM497 627h3v1h-3zM503 627h2v1h-2zM505 626h1v1h-1zM509 626h3v1h-3zM515 625h3v1h-3zM521 625h3v1h-3zM527 625h2v1h-2zM529 626h1v1h-1zM533 626h3v1h-3zM539 627h3v1h-3zM545 628h3v1h-3zM551 628h3v1h-3zM557 628h3v1h-3zM563 629h3v1h-3zM569 629h3v1h-3zM575 629h2v1h-2zM577 628h1v1h-1zM581 628h3v1h-3zM587 628h3v1h-3zM593 628h3v1h-3zM599 628h3v1h-3zM605 628h3v1h-3zM611 628h3v1h-3zM617 627h3v1h-3zM623 626h3v1h-3zM629 625h3v1h-3zM635 624h3v1h-3zM641 623h2v1h-2zM643 622h1v1h-1zM647 621h2v1h-2zM649 620h1v1h-1zM653 619h1v1h-1zM654 618h2v1h-2zM659 615h2v1h-2zM661 614h1v1h-1zM665 611h2v1h-2zM667 610h1v1h-1zM671 608h1v1h-1zM672 607h1v1h-1zM673 606h1v1h-1zM677 604h1v1h-1zM678 603h1v1h-1zM679 602h1v1h-1zM683 599h2v1h-2zM685 598h1v1h-1zM689 596h1v1h-1zM690 595h2v1h-2zM695 593h2v1h-2zM697 592h1v1h-1zM701 591h3v1h-3zM707 590h3v1h-3zM713 589h3v1h-3zM719 589h2v1h-2zM721 590h1v1h-1zM725 590h2v1h-2zM727 591h1v1h-1zM731 592h3v1h-3zM737 593h2v1h-2zM739 594h1v1h-1zM743 595h3v1h-3zM749 596h3v1h-3zM755 596h3v1h-3zM761 596h3v1h-3zM767 595h3v1h-3zM773 594h2v1h-2zM775 593h1v1h-1zM779 592h1v1h-1zM780 591h2v1h-2zM785 589h3v1h-3zM791 587h1v1h-1zM792 586h2v1h-2zM797 584h1v1h-1zM798 583h2v1h-2zM803 581h1v1h-1zM804 580h2v1h-2zM809 579h2v1h-2zM811 578h1v1h-1zM815 578h2v1h-2zM817 577h1v1h-1zM821 577h3v1h-3zM827 578h3v1h-3zM833 579h2v1h-2zM835 580h1v1h-1zM839 581h2v1h-2zM841 582h1v1h-1zM845 583h1v1h-1zM846 584h2v1h-2zM851 586h1v1h-1zM852 587h2v1h-2zM857 590h1v1h-1zM858 591h1v1h-1zM859 592h1v1h-1zM863 595h2v1h-2zM865 596h1v1h-1zM869 599h1v1h-1zM870 600h1v1h-1zM871 601h1v1h-1zM875 604h2v1h-2zM877 605h1v1h-1zM881 608h2v1h-2zM883 609h1v1h-1zM887 611h1v1h-1zM888 612h2v1h-2zM893 614h1v1h-1zM894 615h2v1h-2zM899 617h1v1h-1zM900 618h2v1h-2zM905 620h3v1h-3zM911 622h3v1h-3zM917 623h2v1h-2zM919 624h1v1h-1zM923 625h3v1h-3zM929 625h3v1h-3zM935 625h2v1h-2zM937 626h1v1h-1zM941 626h3v1h-3zM947 626h3v1h-3zM953 627h3v1h-3zM959 628h3v1h-3zM965 629h2v1h-2zM967 630h1v1h-1zM971 631h3v1h-3zM977 633h3v1h-3zM983 635h2v1h-2zM985 636h1v1h-1zM989 637h2v1h-2zM991 638h1v1h-1zM995 639h3v1h-3zM1001 641h1v1h-1zM1002 642h2v1h-2zM1007 644h3v1h-3zM1013 645h2v1h-2zM1015 646h1v1h-1zM1019 647h1v1h-1zM1020 648h2v1h-2zM1025 650h1v1h-1zM1026 651h2v1h-2zM1031 653h3v1h-3zM1037 654h2v1h-2zM1039 655h1v1h-1zM1043 656h3v1h-3zM1049 656h3v1h-3zM1055 656h2v1h-2zM1057 655h1v1h-1zM1061 655h2v1h-2zM1063 654h1v1h-1zM1067 653h3v1h-3zM1073 651h3v1h-3zM1079 649h3v1h-3zM1085 648h1v1h-1zM1086 647h2v1h-2zM1091 645h1v1h-1zM1092 644h2v1h-2zM1097 641h2v1h-2zM1099 640h1v1h-1zM1103 638h1v1h-1zM1104 637h1v1h-1zM1105 636h1v1h-1zM1109 634h1v1h-1zM1110 633h2v1h-2zM1115 631h1v1h-1zM1116 630h2v1h-2z" fill="#ff0000"/>
<rect x="4" y="564" width="1417" height="1" fill="#000"/>
<rect x="4" y="564" width="1" height="104" fill="#000"/>
<rect x="1420" y="564" width="1" height="104" fill="#000"/>
<rect x="4" y="667" width="1417" height="1" fill="#000"/>
<text x="9.2" y="577" font-size="10" fill="#000" textLength="153.5" lengthAdjust="spacingAndGlyphs" stroke="#000" stroke-width="0.22" text-rendering="geometricPrecision">MACD(12,26,9) -0.000568 -0.001393</text>
<rect x="1421" y="566" width="2" height="1" fill="#000"/>
<rect x="1421" y="614" width="2" height="1" fill="#000"/>
<rect x="1421" y="666" width="2" height="1" fill="#000"/>
<text x="1424.1" y="575" font-size="10" fill="#000" textLength="37.4" lengthAdjust="spacingAndGlyphs" stroke="#000" stroke-width="0.22" text-rendering="geometricPrecision">0.004517</text>
<text x="1424.1" y="618" font-size="10" fill="#000" textLength="17.6" lengthAdjust="spacingAndGlyphs" stroke="#000" stroke-width="0.22" text-rendering="geometricPrecision">0.00</text>
<text x="1424.1" y="664" font-size="10" fill="#000" textLength="42" lengthAdjust="spacingAndGlyphs" stroke="#000" stroke-width="0.22" text-rendering="geometricPrecision">-0.004806</text>
<line x1="6" y1="709.5" x2="1420" y2="709.5" stroke="#c0c0c0" stroke-width="1" stroke-dasharray="3,3" shape-rendering="crispEdges"/>
<line x1="6" y1="760.5" x2="1420" y2="760.5" stroke="#c0c0c0" stroke-width="1" stroke-dasharray="3,3" shape-rendering="crispEdges"/>
<path d="M5 740h1v1h-1zM6 741h1v1h-1zM7 742h2v1h-2zM9 743h1v1h-1zM10 744h1v1h-1zM11 745h2v1h-2zM13 746h2v1h-2zM15 745h4v1h-4zM19 744h3v1h-3zM22 745h1v1h-1zM22 746h1v1h-1zM23 747h1v1h-1zM23 748h1v1h-1zM24 749h1v1h-1zM24 750h1v1h-1zM25 751h1v1h-1zM25 752h1v1h-1zM26 753h1v1h-1zM26 754h1v1h-1zM27 755h1v1h-1zM27 756h1v1h-1zM28 757h1v1h-1zM28 758h1v1h-1zM29 759h1v1h-1zM29 760h1v1h-1zM30 759h1v1h-1zM31 758h1v1h-1zM31 757h1v1h-1zM32 756h1v1h-1zM33 755h1v1h-1zM34 754h1v1h-1zM35 753h1v1h-1zM35 752h1v1h-1zM36 751h1v1h-1zM37 750h2v1h-2zM39 751h4v1h-4zM43 752h3v1h-3zM46 751h1v1h-1zM47 750h2v1h-2zM49 749h1v1h-1zM50 748h1v1h-1zM51 747h2v1h-2zM53 746h1v1h-1zM54 745h2v1h-2zM56 744h1v1h-1zM57 743h2v1h-2zM59 742h2v1h-2zM61 741h1v1h-1zM62 740h1v1h-1zM63 739h1v1h-1zM64 738h1v1h-1zM65 737h1v1h-1zM66 736h1v1h-1zM67 735h1v1h-1zM68 734h1v1h-1zM69 733h1v1h-1zM70 734h2v1h-2zM72 735h2v1h-2zM74 736h2v1h-2zM76 737h3v1h-3zM79 736h2v1h-2zM81 735h3v1h-3zM84 734h11v1h-11zM95 733h2v1h-2zM97 732h3v1h-3zM100 731h3v1h-3zM103 730h2v1h-2zM105 729h3v1h-3zM108 728h2v1h-2zM110 727h1v1h-1zM110 726h1v1h-1zM111 725h1v1h-1zM112 724h1v1h-1zM113 723h1v1h-1zM113 722h1v1h-1zM114 721h1v1h-1zM115 720h1v1h-1zM116 719h1v1h-1zM116 718h1v1h-1zM117 717h1v1h-1zM118 718h1v1h-1zM118 719h1v1h-1zM119 720h1v1h-1zM120 721h1v1h-1zM121 722h1v1h-1zM121 723h1v1h-1zM122 724h1v1h-1zM123 725h1v1h-1zM124 726h1v1h-1zM124 727h1v1h-1zM125 728h1v1h-1zM126 729h1v1h-1zM126 730h1v1h-1zM127 731h1v1h-1zM128 732h1v1h-1zM128 733h1v1h-1zM129 734h1v1h-1zM130 735h1v1h-1zM130 736h1v1h-1zM131 737h1v1h-1zM132 738h1v1h-1zM132 739h1v1h-1zM133 740h9v1h-9zM142 739h2v1h-2zM144 738h2v1h-2zM146 737h2v1h-2zM148 736h2v1h-2zM150 737h1v1h-1zM151 738h2v1h-2zM153 739h1v1h-1zM154 740h1v1h-1zM155 741h2v1h-2zM157 742h2v1h-2zM159 743h2v1h-2zM161 744h3v1h-3zM164 745h3v1h-3zM167 746h2v1h-2zM169 747h3v1h-3zM172 748h3v1h-3zM175 749h4v1h-4zM179 750h4v1h-4zM183 749h4v1h-4zM187 748h4v1h-4zM191 749h2v1h-2zM193 750h3v1h-3zM196 751h10v1h-10zM206 750h1v1h-1zM207 749h1v1h-1zM208 748h1v1h-1zM209 747h1v1h-1zM209 746h1v1h-1zM210 745h1v1h-1zM211 744h1v1h-1zM212 743h1v1h-1zM213 742h2v1h-2zM215 743h2v1h-2zM217 744h3v1h-3zM220 745h5v1h-5zM225 746h13v1h-13zM238 745h1v1h-1zM239 744h1v1h-1zM240 743h1v1h-1zM241 742h1v1h-1zM241 741h1v1h-1zM242 740h1v1h-1zM243 739h1v1h-1zM244 738h1v1h-1zM245 737h2v1h-2zM247 736h4v1h-4zM251 735h4v1h-4zM255 734h4v1h-4zM259 733h4v1h-4zM263 734h2v1h-2zM265 735h3v1h-3zM268 736h2v1h-2zM270 735h1v1h-1zM271 734h1v1h-1zM272 733h1v1h-1zM273 732h2v1h-2zM275 731h1v1h-1zM276 730h1v1h-1zM277 729h4v1h-4zM281 728h8v1h-8zM289 727h5v1h-5zM294 728h2v1h-2zM296 729h1v1h-1zM297 730h2v1h-2zM299 731h2v1h-2zM301 732h2v1h-2zM303 731h2v1h-2zM305 730h3v1h-3zM308 729h2v1h-2zM310 730h1v1h-1zM310 731h1v1h-1zM311 732h1v1h-1zM311 733h1v1h-1zM312 734h1v1h-1zM312 735h1v1h-1zM313 736h1v1h-1zM313 737h1v1h-1zM314 738h1v1h-1zM314 739h1v1h-1zM315 740h1v1h-1zM315 741h1v1h-1zM316 742h1v1h-1zM316 743h1v1h-1zM317 744h1v1h-1zM318 743h2v1h-2zM320 742h2v1h-2zM322 741h2v1h-2zM324 740h3v1h-3zM327 739h2v1h-2zM329 738h3v1h-3zM332 737h2v1h-2zM334 738h1v1h-1zM335 739h1v1h-1zM336 740h1v1h-1zM337 741h2v1h-2zM339 742h1v1h-1zM340 743h1v1h-1zM341 744h1v1h-1zM342 745h1v1h-1zM342 746h1v1h-1zM343 747h1v1h-1zM344 748h1v1h-1zM345 749h1v1h-1zM345 750h1v1h-1zM346 751h1v1h-1zM347 752h1v1h-1zM348 753h1v1h-1zM348 754h1v1h-1zM349 755h2v1h-2zM351 756h4v1h-4zM355 757h3v1h-3zM358 756h2v1h-2zM360 755h1v1h-1zM361 754h2v1h-2zM363 753h2v1h-2zM365 752h4v1h-4zM369 753h5v1h-5zM374 752h1v1h-1zM375 751h1v1h-1zM376 750h1v1h-1zM377 749h1v1h-1zM377 748h1v1h-1zM378 747h1v1h-1zM379 746h1v1h-1zM380 745h1v1h-1zM381 744h1v1h-1zM382 743h1v1h-1zM383 742h2v1h-2zM385 741h1v1h-1zM386 740h1v1h-1zM387 739h2v1h-2zM389 738h2v1h-2zM391 739h4v1h-4zM395 740h3v1h-3zM398 741h2v1h-2zM400 742h1v1h-1zM401 743h2v1h-2zM403 744h2v1h-2zM405 745h1v1h-1zM406 744h2v1h-2zM408 743h1v1h-1zM409 742h2v1h-2zM411 741h2v1h-2zM413 740h2v1h-2zM415 741h4v1h-4zM419 742h3v1h-3zM422 741h2v1h-2zM424 740h2v1h-2zM426 739h2v1h-2zM428 738h3v1h-3zM431 739h2v1h-2zM433 740h3v1h-3zM436 741h3v1h-3zM439 740h4v1h-4zM443 739h3v1h-3zM446 738h2v1h-2zM448 737h1v1h-1zM449 736h2v1h-2zM451 735h2v1h-2zM453 734h2v1h-2zM455 733h2v1h-2zM457 732h3v1h-3zM460 731h5v1h-5zM465 730h8v1h-8zM473 731h5v1h-5zM478 732h1v1h-1zM479 733h1v1h-1zM480 734h1v1h-1zM481 735h2v1h-2zM483 736h1v1h-1zM484 737h1v1h-1zM485 738h4v1h-4zM489 737h5v1h-5zM494 738h1v1h-1zM495 739h1v1h-1zM496 740h1v1h-1zM497 741h1v1h-1zM498 742h1v1h-1zM499 743h1v1h-1zM500 744h1v1h-1zM501 745h2v1h-2zM503 746h2v1h-2zM505 747h3v1h-3zM508 748h3v1h-3zM511 747h4v1h-4zM515 746h6v1h-6zM521 745h8v1h-8zM529 746h6v1h-6zM535 747h4v1h-4zM539 748h3v1h-3zM542 747h1v1h-1zM543 746h1v1h-1zM543 745h1v1h-1zM544 744h1v1h-1zM545 743h1v1h-1zM546 742h1v1h-1zM547 741h1v1h-1zM547 740h1v1h-1zM548 739h1v1h-1zM549 738h1v1h-1zM550 737h1v1h-1zM551 736h1v1h-1zM552 735h1v1h-1zM553 734h2v1h-2zM555 733h1v1h-1zM556 732h1v1h-1zM557 731h4v1h-4zM561 732h5v1h-5zM566 733h2v1h-2zM568 734h2v1h-2zM570 735h2v1h-2zM572 736h2v1h-2zM574 737h1v1h-1zM575 738h1v1h-1zM576 739h1v1h-1zM577 740h2v1h-2zM579 741h1v1h-1zM580 742h1v1h-1zM581 743h1v1h-1zM582 744h1v1h-1zM583 745h1v1h-1zM584 746h1v1h-1zM585 747h2v1h-2zM587 748h1v1h-1zM588 749h1v1h-1zM589 750h4v1h-4zM593 751h5v1h-5zM598 750h1v1h-1zM598 749h1v1h-1zM599 748h1v1h-1zM599 747h1v1h-1zM600 746h1v1h-1zM601 745h1v1h-1zM601 744h1v1h-1zM602 743h1v1h-1zM603 742h1v1h-1zM603 741h1v1h-1zM604 740h1v1h-1zM604 739h1v1h-1zM605 738h9v1h-9zM614 737h1v1h-1zM614 736h1v1h-1zM615 735h1v1h-1zM615 734h1v1h-1zM616 733h1v1h-1zM616 732h1v1h-1zM617 731h1v1h-1zM617 730h1v1h-1zM618 729h1v1h-1zM618 728h1v1h-1zM619 727h1v1h-1zM619 726h1v1h-1zM620 725h1v1h-1zM620 724h1v1h-1zM621 723h1v1h-1zM621 722h2v1h-2zM623 721h4v1h-4zM627 720h3v1h-3zM630 721h1v1h-1zM631 722h1v1h-1zM632 723h1v1h-1zM633 724h2v1h-2zM635 725h1v1h-1zM636 726h1v1h-1zM637 727h1v1h-1zM638 726h1v1h-1zM639 725h1v1h-1zM640 724h1v1h-1zM641 723h1v1h-1zM642 722h1v1h-1zM643 721h1v1h-1zM644 720h1v1h-1zM645 719h1v1h-1zM646 718h1v1h-1zM647 717h1v1h-1zM648 716h1v1h-1zM649 715h1v1h-1zM649 714h1v1h-1zM650 713h1v1h-1zM651 712h1v1h-1zM652 711h1v1h-1zM653 710h1v1h-1zM654 711h2v1h-2zM656 712h1v1h-1zM657 713h2v1h-2zM659 714h2v1h-2zM661 715h12v1h-12zM673 714h5v1h-5zM678 715h1v1h-1zM679 716h1v1h-1zM680 717h1v1h-1zM681 718h1v1h-1zM681 719h1v1h-1zM682 720h1v1h-1zM683 721h1v1h-1zM684 722h1v1h-1zM685 723h2v1h-2zM687 724h2v1h-2zM689 725h3v1h-3zM692 726h2v1h-2zM694 727h1v1h-1zM694 728h1v1h-1zM695 729h1v1h-1zM695 730h1v1h-1zM696 731h1v1h-1zM696 732h1v1h-1zM697 733h1v1h-1zM698 734h1v1h-1zM698 735h1v1h-1zM699 736h1v1h-1zM699 737h1v1h-1zM700 738h1v1h-1zM700 739h1v1h-1zM701 740h4v1h-4zM705 739h6v1h-6zM711 738h4v1h-4zM715 737h3v1h-3zM718 738h2v1h-2zM720 739h1v1h-1zM721 740h2v1h-2zM723 741h2v1h-2zM725 742h1v1h-1zM726 741h1v1h-1zM727 740h1v1h-1zM728 739h1v1h-1zM729 738h1v1h-1zM730 737h1v1h-1zM731 736h1v1h-1zM732 735h1v1h-1zM733 734h1v1h-1zM734 733h1v1h-1zM735 732h1v1h-1zM735 731h1v1h-1zM736 730h1v1h-1zM737 729h1v1h-1zM738 728h1v1h-1zM739 727h1v1h-1zM739 726h1v1h-1zM740 725h1v1h-1zM741 724h1v1h-1zM742 723h1v1h-1zM743 722h1v1h-1zM744 721h1v1h-1zM745 720h1v1h-1zM745 719h1v1h-1zM746 718h1v1h-1zM747 717h1v1h-1zM748 716h1v1h-1zM749 715h2v1h-2zM751 714h4v1h-4zM755 713h6v1h-6zM761 712h5v1h-5zM766 713h1v1h-1zM767 714h1v1h-1zM768 715h1v1h-1zM769 716h2v1h-2zM771 717h1v1h-1zM772 718h1v1h-1zM773 719h4v1h-4zM777 718h8v1h-8zM785 719h8v1h-8zM793 718h5v1h-5zM798 719h2v1h-2zM800 720h2v1h-2zM802 721h2v1h-2zM804 722h2v1h-2zM806 723h1v1h-1zM806 724h1v1h-1zM807 725h1v1h-1zM807 726h1v1h-1zM808 727h1v1h-1zM808 728h1v1h-1zM809 729h1v1h-1zM810 730h1v1h-1zM810 731h1v1h-1zM811 732h1v1h-1zM811 733h1v1h-1zM812 734h1v1h-1zM812 735h1v1h-1zM813 736h25v1h-25zM838 737h1v1h-1zM838 738h1v1h-1zM839 739h1v1h-1zM840 740h1v1h-1zM840 741h1v1h-1zM841 742h1v1h-1zM842 743h1v1h-1zM842 744h1v1h-1zM843 745h1v1h-1zM844 746h1v1h-1zM844 747h1v1h-1zM845 748h4v1h-4zM849 747h6v1h-6zM855 748h4v1h-4zM859 749h6v1h-6zM865 750h5v1h-5zM870 749h1v1h-1zM870 748h1v1h-1zM871 747h1v1h-1zM872 746h1v1h-1zM872 745h1v1h-1zM873 744h1v1h-1zM874 743h1v1h-1zM874 742h1v1h-1zM875 741h1v1h-1zM876 740h1v1h-1zM876 739h1v1h-1zM877 738h4v1h-4zM881 739h5v1h-5zM886 738h2v1h-2zM888 737h2v1h-2zM890 736h2v1h-2zM892 735h11v1h-11zM903 736h4v1h-4zM907 737h3v1h-3zM910 738h1v1h-1zM911 739h1v1h-1zM912 740h1v1h-1zM913 741h1v1h-1zM913 742h1v1h-1zM914 743h1v1h-1zM915 744h1v1h-1zM916 745h1v1h-1zM917 746h1v1h-1zM918 745h2v1h-2zM920 744h2v1h-2zM922 743h2v1h-2zM924 742h2v1h-2zM926 741h1v1h-1zM927 740h1v1h-1zM928 739h1v1h-1zM929 738h2v1h-2zM931 737h1v1h-1zM932 736h1v1h-1zM933 735h1v1h-1zM934 736h1v1h-1zM935 737h1v1h-1zM936 738h1v1h-1zM937 739h1v1h-1zM938 740h1v1h-1zM939 741h1v1h-1zM940 742h1v1h-1zM941 743h10v1h-10zM951 744h4v1h-4zM955 745h3v1h-3zM958 746h1v1h-1zM959 747h1v1h-1zM960 748h1v1h-1zM961 749h1v1h-1zM961 750h1v1h-1zM962 751h1v1h-1zM963 752h1v1h-1zM964 753h1v1h-1zM965 754h4v1h-4zM969 755h8v1h-8zM977 754h6v1h-6zM983 755h2v1h-2zM985 756h3v1h-3zM988 757h5v1h-5zM993 756h5v1h-5zM998 755h2v1h-2zM1000 754h2v1h-2zM1002 753h2v1h-2zM1004 752h2v1h-2zM1006 751h2v1h-2zM1008 750h1v1h-1zM1009 749h2v1h-2zM1011 748h2v1h-2zM1013 747h1v1h-1zM1014 748h1v1h-1zM1014 749h1v1h-1zM1015 750h1v1h-1zM1015 751h1v1h-1zM1016 752h1v1h-1zM1017 753h1v1h-1zM1017 754h1v1h-1zM1018 755h1v1h-1zM1019 756h1v1h-1zM1019 757h1v1h-1zM1020 758h1v1h-1zM1020 759h1v1h-1zM1021 760h2v1h-2zM1023 759h4v1h-4zM1027 758h3v1h-3zM1030 757h1v1h-1zM1031 756h1v1h-1zM1032 755h1v1h-1zM1033 754h1v1h-1zM1034 753h1v1h-1zM1035 752h1v1h-1zM1036 751h1v1h-1zM1037 750h9v1h-9zM1045 749h1v1h-1zM1046 748h1v1h-1zM1046 747h1v1h-1zM1046 746h1v1h-1zM1047 745h1v1h-1zM1047 744h1v1h-1zM1047 743h1v1h-1zM1048 742h1v1h-1zM1048 741h1v1h-1zM1048 740h1v1h-1zM1049 739h1v1h-1zM1049 738h1v1h-1zM1049 737h1v1h-1zM1049 736h1v1h-1zM1050 735h1v1h-1zM1050 734h1v1h-1zM1050 733h1v1h-1zM1051 732h1v1h-1zM1051 731h1v1h-1zM1051 730h1v1h-1zM1052 729h1v1h-1zM1052 728h1v1h-1zM1052 727h1v1h-1zM1053 726h1v1h-1zM1053 725h1v1h-1zM1054 726h1v1h-1zM1055 727h2v1h-2zM1057 728h1v1h-1zM1058 729h1v1h-1zM1059 730h2v1h-2zM1061 731h9v1h-9zM1070 732h2v1h-2zM1072 733h2v1h-2zM1074 734h2v1h-2zM1076 735h2v1h-2zM1078 734h2v1h-2zM1080 733h2v1h-2zM1082 732h2v1h-2zM1084 731h11v1h-11zM1095 730h4v1h-4zM1099 729h3v1h-3zM1102 730h1v1h-1zM1103 731h1v1h-1zM1104 732h1v1h-1zM1105 733h1v1h-1zM1106 734h1v1h-1zM1107 735h1v1h-1zM1108 736h1v1h-1zM1109 737h4v1h-4zM1113 738h5v1h-5z" fill="#1e90ff"/>
<rect x="4" y="669" width="1417" height="1" fill="#000"/>
<rect x="4" y="669" width="1" height="131" fill="#000"/>
<rect x="1420" y="669" width="1" height="131" fill="#000"/>
<rect x="4" y="799" width="1417" height="1" fill="#000"/>
<text x="9.2" y="682" font-size="10" fill="#000" textLength="68" lengthAdjust="spacingAndGlyphs" stroke="#000" stroke-width="0.22" text-rendering="geometricPrecision">RSI(14) 47.3273</text>
<rect x="1421" y="671" width="2" height="1" fill="#000"/>
<rect x="1421" y="709" width="2" height="1" fill="#000"/>
<rect x="1421" y="760" width="2" height="1" fill="#000"/>
<rect x="1421" y="797" width="2" height="1" fill="#000"/>
<text x="1424.1" y="680" font-size="10" fill="#000" textLength="16.8" lengthAdjust="spacingAndGlyphs" stroke="#000" stroke-width="0.22" text-rendering="geometricPrecision">100</text>
<text x="1424.1" y="713" font-size="10" fill="#000" textLength="11.3" lengthAdjust="spacingAndGlyphs" stroke="#000" stroke-width="0.22" text-rendering="geometricPrecision">70</text>
<text x="1424.1" y="764" font-size="10" fill="#000" textLength="11.3" lengthAdjust="spacingAndGlyphs" stroke="#000" stroke-width="0.22" text-rendering="geometricPrecision">30</text>
<text x="1424.1" y="796" font-size="10" fill="#000" textLength="5.8" lengthAdjust="spacingAndGlyphs" stroke="#000" stroke-width="0.22" text-rendering="geometricPrecision">0</text>
<rect x="5" y="800" width="1" height="3" fill="#000"/>
<text x="3.8" y="812" font-size="10" fill="#000" textLength="47.2" lengthAdjust="spacingAndGlyphs" stroke="#000" stroke-width="0.22" text-rendering="geometricPrecision">4 Mar 2019</text>
<rect x="69" y="800" width="1" height="3" fill="#000"/>
<text x="67.8" y="812" font-size="10" fill="#000" textLength="52.0" lengthAdjust="spacingAndGlyphs" stroke="#000" stroke-width="0.22" text-rendering="geometricPrecision">13 Mar 2019</text>
<rect x="133" y="800" width="1" height="3" fill="#000"/>
<text x="131.8" y="812" font-size="10" fill="#000" textLength="52.0" lengthAdjust="spacingAndGlyphs" stroke="#000" stroke-width="0.22" text-rendering="geometricPrecision">22 Mar 2019</text>
<rect x="197" y="800" width="1" height="3" fill="#000"/>
<text x="195.8" y="812" font-size="10" fill="#000" textLength="46.400000000000006" lengthAdjust="spacingAndGlyphs" stroke="#000" stroke-width="0.22" text-rendering="geometricPrecision">1 Apr 2019</text>
<rect x="261" y="800" width="1" height="3" fill="#000"/>
<text x="259.8" y="812" font-size="10" fill="#000" textLength="50.900000000000006" lengthAdjust="spacingAndGlyphs" stroke="#000" stroke-width="0.22" text-rendering="geometricPrecision">10 Apr 2019</text>
<rect x="325" y="800" width="1" height="3" fill="#000"/>
<text x="323.8" y="812" font-size="10" fill="#000" textLength="51.6" lengthAdjust="spacingAndGlyphs" stroke="#000" stroke-width="0.22" text-rendering="geometricPrecision">21 Apr 2019</text>
<rect x="389" y="800" width="1" height="3" fill="#000"/>
<text x="387.8" y="812" font-size="10" fill="#000" textLength="51.2" lengthAdjust="spacingAndGlyphs" stroke="#000" stroke-width="0.22" text-rendering="geometricPrecision">30 Apr 2019</text>
<rect x="453" y="800" width="1" height="3" fill="#000"/>
<text x="451.8" y="812" font-size="10" fill="#000" textLength="50.300000000000004" lengthAdjust="spacingAndGlyphs" stroke="#000" stroke-width="0.22" text-rendering="geometricPrecision">9 May 2019</text>
<rect x="517" y="800" width="1" height="3" fill="#000"/>
<text x="515.8" y="812" font-size="10" fill="#000" textLength="54.800000000000004" lengthAdjust="spacingAndGlyphs" stroke="#000" stroke-width="0.22" text-rendering="geometricPrecision">19 May 2019</text>
<rect x="581" y="800" width="1" height="3" fill="#000"/>
<text x="579.8" y="812" font-size="10" fill="#000" textLength="54.800000000000004" lengthAdjust="spacingAndGlyphs" stroke="#000" stroke-width="0.22" text-rendering="geometricPrecision">28 May 2019</text>
<rect x="645" y="800" width="1" height="3" fill="#000"/>
<text x="643.8" y="812" font-size="10" fill="#000" textLength="44.900000000000006" lengthAdjust="spacingAndGlyphs" stroke="#000" stroke-width="0.22" text-rendering="geometricPrecision">6 Jun 2019</text>
<rect x="709" y="800" width="1" height="3" fill="#000"/>
<text x="707.8" y="812" font-size="10" fill="#000" textLength="51.0" lengthAdjust="spacingAndGlyphs" stroke="#000" stroke-width="0.22" text-rendering="geometricPrecision">16 Jun 2019</text>
<rect x="773" y="800" width="1" height="3" fill="#000"/>
<text x="771.8" y="812" font-size="10" fill="#000" textLength="50.400000000000006" lengthAdjust="spacingAndGlyphs" stroke="#000" stroke-width="0.22" text-rendering="geometricPrecision">25 Jun 2019</text>
<rect x="837" y="800" width="1" height="3" fill="#000"/>
<text x="835.8" y="812" font-size="10" fill="#000" textLength="42.2" lengthAdjust="spacingAndGlyphs" stroke="#000" stroke-width="0.22" text-rendering="geometricPrecision">4 Jul 2019</text>
<rect x="901" y="800" width="1" height="3" fill="#000"/>
<text x="899.8" y="812" font-size="10" fill="#000" textLength="47.300000000000004" lengthAdjust="spacingAndGlyphs" stroke="#000" stroke-width="0.22" text-rendering="geometricPrecision">14 Jul 2019</text>
<rect x="965" y="800" width="1" height="3" fill="#000"/>
<text x="963.8" y="812" font-size="10" fill="#000" textLength="47.800000000000004" lengthAdjust="spacingAndGlyphs" stroke="#000" stroke-width="0.22" text-rendering="geometricPrecision">23 Jul 2019</text>
<rect x="1029" y="800" width="1" height="3" fill="#000"/>
<text x="1027.8" y="812" font-size="10" fill="#000" textLength="47.900000000000006" lengthAdjust="spacingAndGlyphs" stroke="#000" stroke-width="0.22" text-rendering="geometricPrecision">1 Aug 2019</text>
<rect x="1093" y="800" width="1" height="3" fill="#000"/>
<text x="1091.8" y="812" font-size="10" fill="#000" textLength="53.2" lengthAdjust="spacingAndGlyphs" stroke="#000" stroke-width="0.22" text-rendering="geometricPrecision">11 Aug 2019</text>
<rect x="0" y="821" width="1463" height="22" fill="#f0f0f0"/>
<rect x="2" y="820" width="1461" height="1" fill="#e3e3e3"/>
<rect x="0" y="821" width="1463" height="1" fill="#fafafa"/>
<rect x="0" y="822" width="1463" height="1" fill="#000"/>
<rect x="2" y="823" width="1461" height="1" fill="#ffffff"/>
<rect x="0" y="842" width="1463" height="1" fill="#fafafa"/>
<rect x="0" y="823" width="1" height="20" fill="#a0a0a0"/>
<rect x="1" y="823" width="1" height="20" fill="#808080"/>
<rect x="2" y="823" width="1" height="20" fill="#fff"/>
<rect x="6" y="822" width="108" height="19" fill="#000"/>
<rect x="7" y="822" width="106" height="18" fill="#fff"/>
<text x="17.3" y="837" font-size="12.3" fill="#000" textLength="84.8" lengthAdjust="spacingAndGlyphs" text-rendering="geometricPrecision">EURUSD-,Daily</text>
<text x="123.9" y="837" font-size="12.3" fill="#6e6e6e" textLength="86.89999999999999" lengthAdjust="spacingAndGlyphs" text-rendering="geometricPrecision">AUDUSD-,Daily</text>
<text x="234.0" y="837" font-size="12.3" fill="#6e6e6e" textLength="83.8" lengthAdjust="spacingAndGlyphs" text-rendering="geometricPrecision">USDCHF-,Daily</text>
<text x="340.5" y="837" font-size="12.3" fill="#6e6e6e" textLength="86.3" lengthAdjust="spacingAndGlyphs" text-rendering="geometricPrecision">USDCAD-,Daily</text>
<text x="449.5" y="837" font-size="12.3" fill="#6e6e6e" textLength="88.3" lengthAdjust="spacingAndGlyphs" text-rendering="geometricPrecision">USDCNH-,Daily</text>
<text x="560.9" y="837" font-size="12.3" fill="#6e6e6e" textLength="96.7" lengthAdjust="spacingAndGlyphs" text-rendering="geometricPrecision">EURCHF-,Weekly</text>
<text x="681.5" y="837" font-size="12.3" fill="#6e6e6e" textLength="100.0" lengthAdjust="spacingAndGlyphs" text-rendering="geometricPrecision">XAUUSD-,Weekly</text>
<text x="804.5" y="837" font-size="12.3" fill="#6e6e6e" textLength="73.0" lengthAdjust="spacingAndGlyphs" text-rendering="geometricPrecision">GBPUSD-,H1</text>
<text x="901.0" y="837" font-size="12.3" fill="#6e6e6e" textLength="56.5" lengthAdjust="spacingAndGlyphs" text-rendering="geometricPrecision">UKOil-,H1</text>
<text x="980.1" y="837" font-size="12.3" fill="#6e6e6e" textLength="82.39999999999999" lengthAdjust="spacingAndGlyphs" text-rendering="geometricPrecision">USDX-,Weekly</text>
<rect x="222" y="825" width="1" height="14" fill="#6c6c6c"/>
<rect x="330" y="825" width="1" height="14" fill="#6c6c6c"/>
<rect x="438" y="825" width="1" height="14" fill="#6c6c6c"/>
<rect x="550" y="825" width="1" height="14" fill="#6c6c6c"/>
<rect x="670" y="825" width="1" height="14" fill="#6c6c6c"/>
<rect x="794" y="825" width="1" height="14" fill="#6c6c6c"/>
<rect x="890" y="825" width="1" height="14" fill="#6c6c6c"/>
<rect x="970" y="825" width="1" height="14" fill="#6c6c6c"/>
<rect x="1074" y="825" width="1" height="14" fill="#6c6c6c"/>
<polygon points="1435.5,831.3 1439.5,827.8 1439.5,834.8" fill="#a8a8a8"/>
<polygon points="1458.5,831.3 1454.5,827.8 1454.5,834.8" fill="#a8a8a8"/></svg>
</body></html>
